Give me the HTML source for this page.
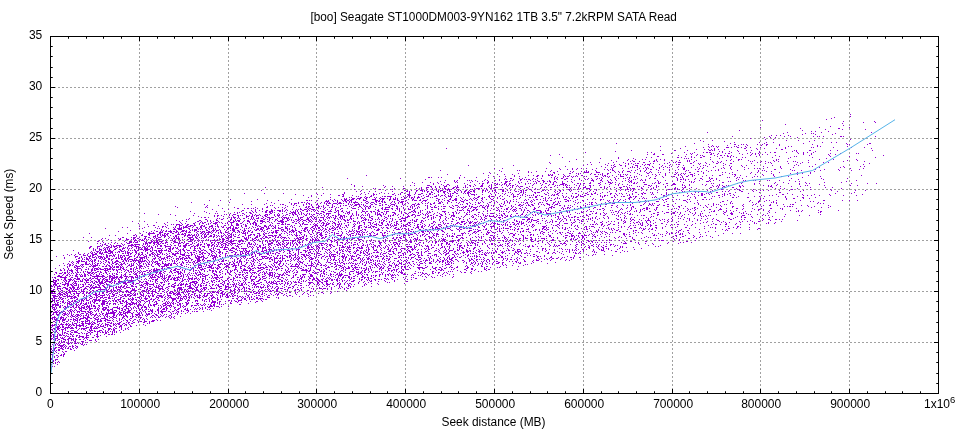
<!DOCTYPE html>
<html lang="en"><head><meta charset="utf-8"><title>Seek profile</title>
<style>
html,body{margin:0;padding:0;background:#fff}
body{width:960px;height:432px;overflow:hidden}
svg{display:block}
text{font-family:"Liberation Sans",sans-serif;font-size:12px;fill:#000}
</style></head><body>
<svg width="960" height="432" viewBox="0 0 960 432">
<rect width="960" height="432" fill="#fff"/>
<path d="M139.5 36.0V393.5M228.5 36.0V393.5M316.5 36.0V393.5M405.5 36.0V393.5M494.5 36.0V393.5M583.5 36.0V393.5M672.5 36.0V393.5M760.5 36.0V393.5M849.5 36.0V393.5M50.0 342.5H938.5M50.0 291.5H938.5M50.0 240.5H938.5M50.0 189.5H938.5M50.0 138.5H938.5M50.0 87.5H938.5" fill="none" stroke="#a0a0a0" stroke-width="1" stroke-dasharray="2 2" shape-rendering="crispEdges"/>
<path transform="translate(0,0.5)" d="M850 114h1M850 116h1M834 117h1M831 118h1M826 119h1M762 120h1M843 121h1m30 0h1M863 122h1m11 0h1M842 123h1M785 124h1M843 125h1M830 126h1M760 127h1m58 0h1m29 0h1M800 128h1m37 0h2M825 129h1m16 0h1m22 0h1M739 130h1m62 0h1M811 131h1m3 0h1m12 0h1M707 132h1m79 0h1m33 0h1m49 0h1M783 133h1m21 0h1m5 0h1m1 0h1m21 0h1M802 134h1m12 0h1m16 0h1M771 135h1m4 0h1m3 0h1m7 0h1M732 136h1m36 0h1m14 0h1m5 0h1m22 0h1m3 0h1m1 0h1m3 0h1m16 0h2m1 0h1m31 0h1M764 137h1m5 0h1m4 0h1m21 0h1M750 138h1M765 139h1m7 0h1m76 0h1M700 140h1m11 0h1m73 0h1m11 0h1m15 0h1M703 141h1m20 0h1m84 0h1M734 142h1m24 0h1m6 0h1m6 0h1m48 0h1m8 0h1m4 0h1M616 143h1m77 0h1m35 0h1m33 0h1m38 0h1m42 0h1m22 0h2M708 144h1m25 0h2m5 0h1m1 0h1m2 0h1m10 0h1m4 0h1m3 0h2m11 0h1m32 0h1m34 0h1m1 0h1m17 0h1M712 145h1m14 0h1m10 0h1m8 0h1m13 0h1m4 0h1m12 0h1m37 0h1M660 146h1m24 0h1m22 0h1m2 0h1m1 0h1m2 0h1m1 0h1m15 0h1m1 0h1m8 0h1m42 0h1m2 0h1m25 0h1m2 0h1m26 0h1M703 147h1m5 0h1m7 0h1m8 0h3m2 0h1m5 0h2m2 0h1m4 0h1m3 0h1m9 0h1m24 0h1m25 0h1m1 0h1m19 0h1m17 0h1m12 0h1M446 148h1m233 0h1m33 0h1m29 0h2m10 0h1m7 0h1m11 0h1m8 0h1m85 0h1M696 149h1m7 0h1m3 0h1m2 0h1m2 0h1m3 0h1m5 0h1m32 0h1m23 0h2M631 150h1m28 0h1m13 0h2m11 0h1m21 0h2m1 0h1m1 0h1m22 0h1m8 0h1m4 0h1m42 0h1m1 0h1m12 0h2m19 0h1m6 0h1m34 0h1M615 151h1m103 0h1m2 0h1m6 0h1m8 0h1m20 0h1m32 0h1m3 0h1m18 0h1M585 152h1m61 0h1m3 0h1m32 0h1m9 0h1m8 0h1m2 0h2m1 0h2m11 0h1m8 0h1m18 0h1m8 0h1m5 0h1m4 0h1m3 0h2m10 0h1m10 0h1m5 0h1m3 0h1m5 0h1M654 153h1m16 0h1m18 0h1m1 0h1m18 0h1m1 0h1m4 0h1m6 0h1m2 0h2m9 0h1m7 0h1m4 0h1m2 0h1m2 0h1m39 0h1m4 0h1m7 0h1m18 0h1m9 0h1m15 0h1m1 0h1M559 154h1m87 0h1m5 0h2m7 0h2m22 0h1m4 0h1m5 0h1m12 0h2m5 0h1m24 0h1m8 0h1m3 0h1m3 0h1m2 0h1m4 0h1m35 0h1m7 0h1m16 0h1m6 0h1M550 155h1m127 0h1m17 0h1m3 0h1m1 0h1m11 0h1m5 0h2m2 0h1m2 0h1m3 0h1m18 0h1m8 0h1m15 0h1m33 0h1m19 0h1m53 0h1M657 156h2m26 0h1m5 0h1m11 0h2m12 0h1m9 0h2m1 0h1m2 0h1m22 0h1m22 0h1m14 0h1m1 0h1m33 0h1m18 0h1M562 157h1m55 0h1m27 0h1m4 0h1m25 0h2m2 0h1m9 0h1m2 0h1m5 0h2m8 0h1m11 0h1m7 0h1m5 0h1m5 0h1m2 0h1m26 0h1m17 0h1m21 0h1m62 0h1M600 158h1m17 0h1m14 0h1m50 0h1m1 0h1m1 0h1m30 0h1m68 0h1m37 0h1M576 159h1m51 0h1m6 0h1m6 0h1m2 0h1m10 0h1m3 0h1m3 0h1m26 0h1m18 0h1m20 0h1m6 0h2m1 0h1m34 0h1m1 0h1m40 0h1m13 0h1m22 0h1M611 160h1m15 0h1m4 0h1m21 0h1m1 0h1m7 0h1m6 0h1m7 0h1m7 0h1m1 0h1m6 0h1m29 0h1m3 0h1m7 0h1m9 0h1m5 0h1m18 0h1m2 0h1m31 0h1m38 0h1m9 0h1M569 161h1m46 0h1m13 0h1m2 0h2m4 0h1m9 0h1m3 0h2m2 0h1m18 0h1m10 0h1m1 0h1m4 0h1m17 0h1m4 0h1m3 0h1m11 0h1m16 0h1m1 0h1m8 0h1m3 0h1m8 0h1m3 0h1m8 0h1m5 0h1m1 0h1m47 0h1m20 0h1M549 162h1m40 0h1m8 0h1m13 0h1m9 0h1m19 0h2m24 0h1m3 0h1m1 0h1m2 0h3m12 0h1m11 0h1m7 0h1m4 0h1m1 0h1m36 0h1m2 0h1m7 0h1m1 0h1m26 0h1m4 0h1m5 0h1m14 0h1m4 0h1M550 163h1m57 0h1m16 0h1m2 0h1m2 0h1m3 0h1m1 0h2m11 0h1m2 0h1m10 0h1m2 0h1m22 0h2m6 0h1m1 0h1m5 0h1m9 0h2m5 0h1m6 0h2m19 0h1m13 0h1m5 0h1m16 0h1m11 0h1m68 0h1M587 164h1m3 0h1m13 0h1m8 0h1m4 0h1m8 0h1m4 0h1m8 0h1m2 0h1m1 0h3m9 0h1m10 0h1m5 0h1m1 0h2m19 0h1m9 0h1m15 0h1m70 0h1m18 0h1m47 0h1M468 165h1m44 0h1m69 0h1m23 0h1m3 0h1m1 0h1m6 0h2m3 0h1m9 0h3m6 0h1m4 0h1m12 0h1m6 0h1m13 0h1m9 0h1m9 0h1m1 0h1m17 0h1m5 0h1m11 0h1m4 0h1m7 0h1m17 0h1m21 0h1m3 0h1M565 166h1m35 0h1m12 0h2m9 0h1m6 0h1m4 0h1m2 0h1m11 0h1m8 0h1m3 0h1m5 0h1m6 0h1m21 0h1m6 0h1m7 0h1m15 0h1m10 0h1m20 0h1m16 0h1m28 0h1m2 0h1m30 0h1m16 0h1m3 0h1M605 167h1m5 0h1m1 0h1m16 0h1m1 0h1m1 0h1m2 0h1m7 0h1m1 0h1m5 0h1m5 0h1m3 0h1m3 0h1m1 0h1m7 0h1m4 0h1m1 0h1m6 0h1m5 0h1m5 0h1m9 0h1m9 0h1m6 0h1m13 0h1m22 0h1m12 0h1m12 0h1m25 0h1m20 0h1m3 0h1M494 168h1m7 0h1m43 0h1m12 0h1m12 0h1m4 0h1m3 0h1m4 0h1m9 0h1m15 0h1m9 0h1m5 0h1m10 0h1m3 0h1m2 0h1m1 0h1m10 0h1m23 0h2m14 0h1m2 0h1m18 0h1m2 0h1m5 0h1m17 0h1m5 0h1m2 0h1m1 0h1m3 0h1m17 0h1m68 0h1m12 0h1M560 169h1m6 0h1m4 0h1m3 0h1m15 0h1m11 0h1m2 0h1m2 0h1m1 0h1m24 0h1m8 0h1m3 0h2m4 0h1m6 0h1m5 0h1m8 0h1m4 0h2m10 0h1m2 0h1m19 0h1m12 0h1m12 0h1m29 0h2m14 0h1m24 0h1m8 0h1m13 0h1m20 0h1M440 170h1m58 0h1m17 0h1m1 0h1m31 0h1m34 0h1m8 0h1m12 0h1m3 0h2m9 0h1m7 0h1m3 0h1m4 0h1m4 0h1m12 0h1m10 0h1m5 0h1m10 0h1m1 0h1m17 0h1m4 0h1m3 0h1m2 0h1m18 0h1m20 0h1m3 0h1m1 0h1m27 0h1m1 0h1m6 0h1m18 0h1m18 0h1m11 0h1M501 171h1m26 0h1m7 0h1m8 0h1m4 0h1m6 0h1m12 0h1m2 0h1m7 0h1m2 0h1m1 0h1m1 0h1m7 0h1m17 0h1m3 0h1m3 0h1m4 0h3m10 0h1m3 0h1m5 0h1m34 0h1m11 0h2m2 0h1m6 0h1m49 0h1m7 0h1m4 0h1m42 0h1M489 172h1m38 0h1m2 0h1m21 0h2m17 0h1m11 0h5m7 0h4m10 0h1m4 0h1m3 0h1m2 0h1m7 0h1m3 0h1m11 0h1m2 0h1m1 0h1m6 0h1m1 0h1m8 0h1m5 0h1m1 0h1m11 0h2m12 0h1m18 0h1m2 0h1m6 0h1m18 0h1m5 0h1m21 0h1m17 0h1m12 0h1M483 173h1m6 0h1m27 0h1m35 0h1m14 0h2m5 0h1m1 0h1m1 0h1m10 0h1m10 0h1m4 0h2m28 0h1m9 0h2m16 0h1m10 0h1m4 0h1m1 0h1m1 0h1m8 0h1m8 0h1m25 0h1m20 0h1m20 0h1m18 0h1m5 0h1m5 0h1m7 0h1M447 174h1m49 0h1m6 0h1m7 0h1m35 0h1m1 0h1m1 0h1m5 0h1m4 0h1m14 0h1m11 0h1m3 0h2m2 0h1m1 0h1m1 0h1m4 0h1m10 0h1m1 0h1m2 0h1m1 0h1m1 0h1m11 0h1m12 0h1m2 0h1m3 0h1m5 0h1m8 0h2m2 0h1m1 0h1m3 0h1m5 0h3m5 0h1m23 0h1m9 0h1m1 0h2m19 0h1m6 0h1m10 0h1m23 0h1M366 175h1m93 0h1m27 0h1m25 0h1m13 0h1m4 0h1m3 0h2m3 0h1m5 0h2m1 0h2m11 0h1m4 0h1m6 0h1m4 0h2m19 0h1m1 0h2m6 0h1m7 0h1m5 0h1m3 0h1m10 0h1m6 0h1m7 0h1m8 0h1m12 0h1m2 0h1m6 0h1m3 0h1m1 0h1m11 0h1m5 0h1m6 0h2m14 0h1m4 0h1m22 0h1m9 0h1m34 0h1m52 0h1M493 176h1m5 0h1m5 0h1m8 0h1m4 0h1m16 0h2m4 0h1m12 0h1m7 0h1m1 0h1m1 0h2m2 0h1m1 0h1m1 0h1m1 0h1m6 0h1m1 0h1m8 0h3m5 0h1m1 0h1m1 0h1m1 0h1m6 0h1m3 0h4m10 0h1m1 0h1m9 0h1m8 0h1m6 0h1m8 0h1m1 0h2m7 0h1m3 0h2m4 0h1m9 0h1m31 0h1m11 0h1m7 0h1m2 0h1m16 0h1m6 0h1m6 0h1m31 0h1M428 177h2m1 0h1m6 0h1m2 0h1m17 0h1m4 0h1m11 0h1m11 0h1m36 0h1m25 0h1m2 0h1m2 0h1m5 0h1m8 0h1m28 0h1m6 0h1m5 0h1m12 0h1m1 0h1m1 0h1m2 0h1m15 0h1m12 0h1m12 0h1m3 0h1m1 0h1m26 0h1m17 0h1m1 0h1m7 0h1m1 0h1m12 0h1m49 0h1M347 178h1m52 0h1m58 0h1m34 0h1m10 0h1m4 0h2m7 0h1m2 0h1m10 0h1m3 0h1m3 0h1m12 0h1m1 0h1m4 0h2m3 0h2m11 0h1m4 0h1m3 0h1m2 0h1m5 0h1m1 0h1m2 0h1m12 0h1m2 0h1m4 0h1m1 0h1m3 0h1m7 0h1m11 0h1m4 0h2m21 0h1m5 0h1m11 0h1m4 0h2m7 0h1m1 0h2m3 0h1m19 0h1m5 0h1m48 0h1m29 0h1m25 0h1M425 179h1m59 0h1m13 0h1m4 0h1m1 0h1m6 0h1m6 0h2m2 0h1m1 0h1m1 0h2m2 0h1m2 0h1m18 0h1m2 0h1m6 0h2m5 0h1m7 0h1m5 0h1m1 0h1m4 0h1m3 0h1m4 0h1m8 0h1m4 0h1m12 0h1m4 0h1m1 0h1m5 0h1m3 0h1m31 0h1m2 0h2m1 0h1m1 0h1m2 0h1m5 0h1m7 0h1m7 0h1m5 0h1m21 0h1m59 0h1m24 0h1M445 180h1m8 0h1m2 0h1m9 0h1m1 0h1m1 0h1m3 0h1m8 0h1m2 0h1m7 0h1m3 0h1m10 0h1m1 0h1m7 0h1m9 0h1m6 0h1m4 0h2m5 0h1m24 0h1m6 0h1m9 0h3m6 0h2m5 0h1m3 0h1m4 0h1m8 0h1m3 0h1m1 0h1m8 0h1m1 0h1m2 0h1m11 0h1m7 0h1m11 0h1m7 0h1m13 0h1m9 0h1m3 0h1m5 0h1m16 0h1m6 0h1m1 0h1m7 0h1m1 0h1m11 0h1m1 0h1m9 0h1m9 0h1m66 0h1M440 181h1m13 0h1m1 0h1m15 0h1m4 0h1m4 0h1m5 0h1m16 0h3m1 0h1m8 0h1m8 0h1m5 0h1m1 0h1m2 0h2m3 0h2m2 0h1m1 0h2m3 0h2m6 0h1m4 0h1m3 0h1m21 0h1m8 0h1m5 0h1m13 0h1m5 0h1m1 0h2m26 0h1m13 0h1m7 0h1m8 0h1m1 0h1m2 0h1m11 0h3m1 0h1m17 0h1m1 0h1m28 0h1m35 0h1m3 0h1m46 0h1M412 182h1m9 0h1m7 0h1m6 0h1m6 0h1m10 0h1m1 0h1m12 0h1m16 0h2m3 0h1m8 0h1m3 0h2m11 0h1m2 0h1m14 0h1m6 0h1m6 0h1m2 0h1m2 0h1m5 0h1m9 0h1m17 0h1m9 0h1m7 0h3m1 0h1m2 0h1m13 0h1m1 0h1m2 0h1m2 0h1m5 0h2m10 0h1m2 0h1m1 0h1m22 0h1m7 0h1m1 0h1m28 0h2m18 0h1m32 0h1m7 0h1m21 0h1m18 0h1m16 0h1M414 183h1m18 0h1m4 0h1m25 0h1m14 0h1m2 0h2m3 0h1m6 0h2m1 0h1m6 0h2m3 0h2m8 0h1m5 0h1m2 0h1m1 0h1m3 0h1m1 0h1m3 0h1m4 0h2m6 0h1m8 0h3m12 0h2m1 0h1m2 0h2m4 0h2m7 0h2m5 0h1m4 0h2m7 0h1m13 0h2m1 0h1m15 0h1m1 0h1m3 0h2m6 0h2m5 0h2m36 0h1m1 0h1m23 0h1m3 0h1m12 0h1m4 0h1m14 0h1m13 0h1m10 0h1m6 0h1m2 0h1m41 0h1m15 0h1m8 0h1M351 184h1m81 0h1m7 0h1m5 0h2m18 0h1m6 0h1m7 0h1m8 0h1m4 0h2m1 0h1m2 0h1m1 0h1m1 0h1m2 0h1m5 0h1m9 0h1m7 0h1m8 0h1m6 0h1m2 0h2m6 0h4m1 0h2m7 0h1m5 0h1m19 0h1m8 0h1m5 0h1m2 0h1m3 0h1m4 0h1m16 0h3m16 0h1m8 0h4m6 0h1m6 0h1m12 0h1m3 0h1m12 0h1m34 0h1m22 0h1m21 0h1m19 0h1M354 185h1m28 0h1m26 0h1m3 0h1m12 0h3m13 0h1m2 0h1m2 0h1m7 0h1m7 0h1m3 0h2m4 0h1m5 0h2m6 0h1m1 0h1m3 0h1m5 0h1m4 0h1m1 0h1m1 0h1m1 0h2m3 0h1m14 0h1m8 0h1m6 0h1m6 0h1m1 0h1m1 0h1m3 0h1m1 0h1m1 0h1m1 0h1m6 0h1m2 0h1m3 0h1m5 0h2m2 0h1m5 0h1m18 0h1m10 0h1m1 0h1m16 0h2m1 0h1m4 0h1m10 0h1m3 0h1m10 0h1m1 0h1m4 0h1m15 0h1m6 0h1m4 0h1m1 0h1m2 0h1m3 0h1m1 0h1m10 0h1m2 0h1m20 0h1m4 0h1m2 0h1m4 0h1m28 0h1m1 0h1m16 0h1m25 0h1m6 0h1M354 186h1m7 0h1m22 0h1m6 0h1m10 0h1m26 0h2m3 0h1m3 0h1m4 0h3m8 0h1m1 0h1m7 0h1m4 0h1m2 0h1m6 0h3m5 0h1m2 0h1m15 0h1m4 0h1m3 0h1m1 0h1m1 0h3m6 0h1m15 0h1m8 0h1m11 0h1m12 0h1m5 0h1m4 0h1m13 0h1m4 0h1m13 0h2m1 0h1m10 0h1m1 0h1m3 0h1m6 0h1m5 0h1m1 0h1m6 0h1m19 0h1m27 0h1m2 0h1m1 0h1m4 0h2m14 0h2m2 0h1m24 0h1m1 0h2m8 0h1m10 0h1m8 0h1M265 187h1m56 0h1m61 0h1m36 0h1m4 0h3m2 0h1m3 0h1m3 0h1m4 0h1m8 0h2m1 0h3m4 0h1m1 0h1m1 0h1m21 0h1m1 0h1m2 0h4m4 0h1m7 0h1m1 0h1m6 0h1m6 0h2m4 0h1m8 0h1m2 0h1m1 0h1m3 0h2m5 0h1m5 0h1m2 0h2m1 0h1m1 0h1m2 0h1m3 0h1m4 0h3m4 0h1m9 0h2m2 0h1m2 0h1m6 0h1m4 0h3m5 0h1m1 0h1m11 0h1m6 0h1m4 0h1m2 0h1m8 0h1m9 0h1m6 0h1m1 0h2m5 0h1m18 0h2m6 0h1m3 0h1m1 0h2m6 0h2m6 0h1m31 0h1m37 0h1m14 0h1m6 0h1M373 188h1m1 0h1m18 0h1m8 0h2m11 0h1m2 0h1m1 0h1m4 0h1m5 0h1m3 0h1m3 0h1m1 0h1m1 0h2m2 0h1m3 0h2m2 0h1m17 0h1m1 0h4m1 0h1m2 0h1m1 0h1m3 0h2m1 0h1m11 0h1m3 0h1m5 0h1m4 0h1m3 0h1m3 0h1m6 0h1m4 0h1m29 0h1m7 0h1m1 0h1m2 0h1m2 0h4m14 0h1m1 0h1m3 0h1m5 0h1m3 0h1m6 0h1m2 0h1m1 0h3m6 0h2m8 0h1m1 0h1m20 0h2m1 0h1m5 0h1m5 0h1m6 0h1m12 0h1m7 0h1m18 0h1m38 0h1m4 0h1m3 0h1m12 0h1m43 0h1M354 189h1m24 0h2m9 0h1m1 0h1m28 0h1m5 0h1m4 0h1m3 0h1m8 0h1m1 0h3m1 0h1m5 0h2m11 0h1m1 0h1m5 0h1m7 0h1m8 0h1m4 0h2m1 0h1m25 0h2m3 0h1m2 0h1m6 0h1m5 0h1m17 0h2m3 0h1m3 0h1m11 0h1m4 0h1m1 0h1m24 0h1m3 0h1m1 0h2m4 0h1m4 0h1m11 0h1m4 0h1m12 0h2m1 0h1m2 0h1m2 0h1m1 0h1m2 0h1m38 0h2m11 0h1m2 0h1m1 0h1m13 0h1m37 0h2m17 0h1m19 0h1M261 190h1m99 0h1m23 0h1m18 0h2m1 0h1m3 0h1m4 0h2m2 0h3m1 0h1m1 0h1m6 0h1m2 0h1m1 0h1m1 0h3m4 0h1m1 0h1m6 0h1m1 0h1m1 0h1m4 0h2m2 0h1m3 0h2m7 0h2m1 0h1m1 0h1m4 0h1m1 0h2m6 0h2m3 0h1m2 0h1m3 0h1m5 0h2m1 0h1m1 0h2m4 0h1m10 0h2m1 0h1m2 0h1m6 0h1m3 0h2m2 0h1m5 0h1m1 0h1m18 0h1m5 0h1m19 0h1m3 0h1m4 0h1m4 0h1m2 0h1m7 0h1m4 0h1m10 0h1m8 0h1m14 0h1m7 0h1m17 0h1m4 0h1m16 0h1m9 0h2m11 0h1m3 0h1m3 0h1m2 0h1m4 0h1m10 0h1m9 0h1m13 0h1m27 0h1m23 0h1m9 0h1M356 191h1m3 0h1m8 0h1m5 0h1m16 0h1m13 0h2m1 0h1m6 0h1m5 0h1m1 0h1m2 0h2m2 0h1m5 0h2m1 0h1m2 0h3m3 0h2m3 0h1m2 0h1m3 0h1m2 0h2m2 0h1m1 0h2m1 0h2m7 0h1m2 0h1m3 0h1m2 0h1m2 0h1m6 0h2m1 0h1m9 0h2m1 0h1m2 0h1m1 0h1m8 0h1m8 0h1m12 0h1m2 0h1m2 0h1m9 0h1m7 0h1m2 0h1m7 0h1m3 0h1m15 0h1m6 0h1m11 0h1m3 0h1m43 0h1m5 0h1m1 0h1m5 0h1m3 0h2m3 0h1m10 0h1m11 0h1m2 0h1m2 0h1m12 0h2m10 0h1m46 0h1m36 0h1M344 192h1m19 0h1m16 0h1m19 0h2m6 0h1m5 0h1m11 0h1m3 0h2m5 0h1m4 0h2m2 0h1m6 0h2m5 0h1m2 0h1m2 0h3m4 0h1m7 0h1m5 0h1m5 0h1m1 0h1m11 0h1m1 0h1m9 0h2m1 0h1m1 0h1m8 0h2m1 0h3m7 0h1m7 0h1m3 0h1m27 0h1m7 0h1m6 0h1m4 0h1m27 0h2m6 0h1m6 0h1m1 0h1m4 0h1m8 0h1m12 0h1m15 0h1m2 0h1m11 0h1m5 0h2m17 0h1m23 0h1m19 0h2m73 0h1M244 193h1m19 0h1m18 0h1m32 0h1m6 0h1m20 0h1m16 0h1m6 0h1m4 0h1m5 0h1m4 0h1m3 0h1m5 0h1m5 0h1m3 0h1m4 0h1m5 0h1m5 0h2m6 0h2m3 0h1m9 0h1m3 0h1m1 0h1m1 0h2m2 0h2m5 0h1m1 0h1m1 0h2m1 0h1m19 0h1m7 0h1m3 0h1m2 0h1m6 0h1m6 0h1m3 0h1m11 0h1m8 0h1m3 0h1m8 0h2m3 0h1m3 0h1m5 0h1m2 0h2m8 0h2m4 0h1m2 0h2m4 0h1m9 0h2m3 0h1m3 0h1m1 0h1m4 0h1m5 0h1m8 0h2m1 0h2m6 0h1m13 0h1m8 0h1m11 0h1m3 0h1m9 0h2m3 0h1m1 0h1m2 0h1m12 0h1m4 0h2m17 0h1m38 0h1m47 0h1m15 0h1M295 194h1m21 0h1m12 0h1m11 0h2m16 0h1m4 0h1m7 0h2m1 0h1m15 0h2m4 0h1m1 0h1m6 0h3m4 0h1m3 0h3m5 0h1m2 0h2m1 0h1m5 0h1m6 0h1m4 0h1m17 0h1m2 0h4m1 0h1m5 0h1m8 0h1m3 0h1m8 0h1m6 0h1m1 0h1m3 0h2m3 0h1m2 0h1m7 0h1m11 0h2m5 0h1m1 0h1m1 0h2m20 0h1m3 0h1m4 0h2m2 0h2m4 0h1m12 0h1m5 0h1m5 0h1m6 0h1m2 0h1m5 0h1m3 0h1m8 0h1m1 0h1m7 0h1m4 0h1m1 0h1m2 0h1m20 0h1m1 0h1m6 0h2m1 0h1m4 0h1m12 0h1m1 0h1m2 0h1m5 0h1m42 0h1m5 0h2m8 0h1m9 0h1m11 0h1m14 0h1m32 0h1M303 195h1m7 0h1m9 0h1m16 0h2m3 0h1m8 0h1m18 0h1m1 0h1m21 0h1m9 0h1m2 0h3m12 0h1m4 0h1m7 0h1m1 0h1m2 0h2m1 0h1m3 0h1m1 0h1m1 0h1m5 0h1m9 0h1m5 0h1m14 0h1m5 0h1m4 0h1m6 0h1m5 0h1m6 0h1m1 0h1m4 0h1m1 0h1m1 0h1m1 0h1m3 0h1m1 0h1m8 0h1m2 0h1m1 0h2m3 0h1m3 0h1m8 0h1m6 0h1m1 0h1m3 0h2m14 0h1m3 0h2m1 0h1m6 0h1m2 0h1m9 0h1m1 0h1m33 0h2m7 0h1m4 0h1m5 0h1m4 0h1m9 0h1m2 0h2m15 0h2m4 0h1m5 0h1m3 0h1m26 0h1m7 0h1m2 0h1m30 0h1m3 0h1m3 0h1m7 0h1m10 0h1m12 0h1m12 0h1M311 196h1m30 0h2m12 0h1m1 0h1m6 0h1m4 0h2m10 0h1m1 0h2m1 0h5m11 0h1m3 0h1m1 0h1m4 0h1m3 0h1m2 0h1m4 0h3m5 0h3m3 0h1m4 0h1m2 0h4m4 0h1m12 0h1m8 0h2m8 0h2m1 0h3m5 0h1m2 0h1m6 0h1m3 0h3m1 0h1m7 0h1m9 0h2m4 0h2m20 0h1m2 0h1m4 0h1m1 0h1m2 0h2m2 0h4m6 0h1m9 0h1m1 0h1m1 0h1m9 0h1m6 0h1m1 0h2m5 0h1m2 0h1m1 0h2m4 0h1m13 0h1m7 0h1m2 0h1m20 0h1m6 0h1m17 0h1m1 0h1m7 0h1m15 0h1m15 0h1m4 0h1m4 0h1m13 0h1m6 0h1m11 0h1M308 197h1m21 0h1m18 0h1m1 0h1m8 0h2m2 0h1m1 0h2m1 0h1m4 0h1m1 0h1m3 0h1m9 0h1m4 0h1m5 0h1m2 0h1m1 0h1m2 0h1m1 0h2m1 0h1m2 0h3m4 0h1m5 0h1m1 0h1m13 0h1m4 0h1m8 0h1m2 0h1m10 0h1m2 0h2m3 0h1m1 0h1m4 0h1m7 0h1m15 0h1m6 0h1m8 0h2m1 0h1m2 0h2m8 0h1m3 0h1m7 0h1m5 0h1m1 0h1m2 0h1m4 0h1m1 0h2m25 0h1m8 0h2m2 0h1m13 0h3m3 0h1m7 0h1m8 0h1m1 0h1m1 0h1m16 0h1m16 0h1m4 0h1m8 0h2m13 0h1m12 0h2m2 0h1m10 0h2m36 0h1m16 0h2m11 0h1M318 198h1m25 0h1m1 0h1m5 0h3m2 0h4m4 0h2m8 0h1m3 0h1m1 0h4m2 0h1m2 0h1m2 0h1m1 0h1m1 0h1m6 0h2m5 0h1m1 0h1m3 0h1m4 0h2m12 0h2m6 0h1m5 0h1m4 0h2m4 0h1m8 0h1m2 0h1m1 0h2m4 0h2m7 0h1m2 0h1m3 0h1m2 0h1m3 0h1m14 0h1m23 0h1m1 0h1m2 0h1m2 0h1m3 0h1m1 0h1m1 0h1m9 0h1m2 0h1m20 0h1m34 0h2m4 0h1m4 0h1m2 0h1m1 0h1m1 0h1m20 0h2m26 0h1m15 0h1m48 0h1m2 0h1m22 0h1m6 0h2m8 0h1m5 0h1M230 199h1m26 0h1m33 0h1m38 0h1m3 0h1m6 0h1m2 0h3m2 0h1m1 0h3m2 0h1m2 0h1m3 0h1m2 0h1m5 0h4m4 0h1m1 0h2m5 0h2m2 0h3m1 0h1m3 0h3m4 0h1m3 0h2m6 0h1m6 0h1m10 0h2m2 0h1m6 0h2m3 0h3m5 0h1m2 0h1m3 0h1m1 0h1m2 0h1m2 0h1m4 0h1m3 0h1m4 0h2m9 0h2m9 0h1m2 0h1m8 0h1m2 0h1m4 0h1m2 0h2m2 0h1m4 0h1m8 0h1m9 0h3m10 0h1m9 0h1m4 0h1m2 0h1m4 0h2m1 0h1m10 0h1m2 0h1m2 0h1m4 0h1m3 0h1m3 0h1m25 0h1m2 0h1m2 0h2m5 0h1m3 0h1m2 0h1m7 0h1m1 0h1m12 0h2m2 0h1m2 0h1m50 0h1m25 0h1M209 200h1m10 0h1m46 0h1m10 0h1m27 0h2m1 0h1m1 0h1m5 0h1m8 0h1m1 0h1m3 0h1m2 0h1m1 0h1m4 0h1m1 0h2m1 0h2m1 0h2m11 0h3m9 0h3m1 0h1m2 0h1m6 0h1m7 0h2m7 0h1m5 0h1m1 0h3m2 0h2m2 0h4m9 0h1m1 0h1m5 0h1m2 0h2m3 0h2m1 0h2m3 0h1m3 0h1m1 0h2m4 0h1m3 0h1m4 0h1m11 0h1m12 0h1m3 0h1m13 0h1m1 0h1m4 0h1m2 0h1m8 0h1m1 0h1m1 0h1m2 0h2m15 0h2m1 0h1m4 0h1m6 0h2m16 0h1m6 0h1m1 0h1m3 0h1m5 0h1m3 0h1m14 0h1m6 0h1m17 0h1m19 0h3m11 0h1m29 0h1m22 0h1m8 0h1m6 0h1m2 0h1m6 0h1m23 0h1m22 0h2m17 0h1m6 0h1m7 0h1M251 201h1m73 0h4m4 0h1m3 0h1m5 0h1m1 0h2m2 0h1m1 0h1m3 0h1m10 0h2m7 0h2m1 0h2m1 0h2m1 0h1m7 0h1m1 0h1m4 0h1m1 0h3m1 0h1m16 0h1m2 0h1m12 0h1m2 0h1m6 0h2m11 0h3m18 0h1m8 0h1m4 0h1m7 0h1m2 0h1m2 0h1m2 0h1m2 0h1m13 0h1m1 0h1m13 0h1m8 0h1m2 0h1m1 0h1m4 0h2m1 0h1m4 0h1m9 0h1m24 0h1m4 0h1m4 0h1m6 0h1m4 0h1m9 0h1m3 0h1m1 0h1m1 0h1m7 0h3m7 0h1m6 0h1m12 0h1m3 0h1m31 0h2m7 0h1m17 0h1m8 0h2m4 0h1m8 0h1m36 0h1m2 0h1M191 202h1m37 0h1m41 0h1m17 0h1m8 0h1m2 0h2m1 0h1m2 0h1m7 0h1m5 0h1m2 0h1m2 0h1m1 0h1m7 0h1m1 0h2m5 0h1m2 0h1m1 0h1m1 0h5m3 0h1m3 0h1m2 0h1m2 0h3m2 0h1m5 0h1m1 0h2m5 0h1m2 0h1m3 0h1m1 0h3m4 0h1m13 0h1m6 0h1m5 0h1m4 0h2m1 0h1m4 0h1m3 0h1m4 0h1m2 0h1m3 0h1m5 0h1m5 0h1m2 0h1m1 0h1m2 0h1m5 0h2m3 0h1m2 0h1m6 0h1m2 0h1m1 0h1m8 0h1m2 0h1m1 0h1m2 0h2m3 0h1m7 0h2m1 0h1m10 0h2m3 0h1m16 0h1m2 0h1m1 0h1m8 0h1m1 0h2m2 0h1m9 0h1m3 0h2m3 0h1m24 0h1m5 0h1m18 0h1m22 0h1m9 0h1m22 0h1m9 0h1m21 0h1m5 0h1m12 0h1m1 0h1m2 0h1m18 0h1m22 0h1M266 203h1m7 0h1m16 0h1m2 0h3m1 0h1m7 0h1m1 0h2m7 0h1m2 0h1m3 0h1m1 0h1m1 0h3m2 0h4m1 0h4m1 0h1m4 0h1m5 0h1m3 0h1m7 0h2m2 0h1m3 0h1m4 0h2m9 0h1m4 0h1m2 0h1m3 0h1m2 0h1m2 0h1m6 0h1m2 0h1m3 0h1m2 0h1m1 0h1m2 0h1m2 0h2m3 0h3m6 0h1m10 0h1m7 0h2m2 0h1m7 0h2m7 0h1m6 0h1m6 0h1m2 0h1m4 0h1m15 0h1m1 0h1m6 0h1m3 0h1m7 0h2m5 0h1m3 0h1m1 0h1m17 0h1m7 0h1m5 0h1m4 0h1m4 0h1m5 0h2m3 0h3m17 0h1m11 0h1m4 0h1m2 0h1m1 0h1m20 0h1m18 0h1m3 0h1m14 0h1m16 0h1m1 0h1m23 0h1m19 0h1m40 0h1m2 0h1m2 0h1M204 204h1m37 0h1m8 0h1m12 0h1m15 0h1m1 0h2m7 0h1m2 0h1m8 0h1m2 0h1m2 0h1m1 0h1m4 0h2m8 0h1m5 0h1m4 0h1m10 0h1m1 0h1m1 0h1m2 0h5m1 0h1m1 0h1m7 0h2m2 0h2m5 0h1m2 0h2m4 0h4m7 0h1m1 0h1m7 0h3m2 0h3m10 0h2m11 0h1m16 0h1m1 0h1m4 0h1m4 0h1m2 0h1m12 0h1m10 0h1m3 0h1m11 0h1m3 0h2m2 0h1m4 0h1m2 0h2m5 0h1m2 0h1m1 0h1m3 0h3m2 0h1m2 0h3m16 0h1m12 0h1m1 0h1m1 0h2m12 0h2m15 0h1m7 0h1m12 0h1m5 0h2m1 0h1m6 0h1m7 0h2m29 0h1m9 0h1m4 0h1m2 0h1m1 0h1m5 0h1m1 0h1m16 0h1m9 0h1m1 0h1m4 0h1m9 0h1m12 0h1m6 0h1m1 0h2M207 205h1m10 0h1m51 0h1m1 0h1m12 0h1m7 0h1m2 0h1m6 0h1m7 0h1m6 0h1m4 0h1m3 0h2m3 0h1m7 0h1m2 0h1m1 0h2m4 0h1m2 0h3m2 0h1m3 0h1m1 0h1m4 0h1m8 0h2m1 0h1m5 0h1m1 0h1m3 0h1m1 0h1m6 0h1m7 0h1m2 0h1m1 0h1m8 0h1m1 0h1m7 0h1m16 0h1m2 0h3m11 0h1m10 0h2m1 0h1m2 0h1m1 0h1m2 0h1m1 0h1m6 0h1m4 0h1m5 0h1m6 0h2m1 0h2m3 0h1m1 0h2m2 0h2m10 0h1m4 0h1m4 0h1m4 0h2m3 0h1m3 0h1m1 0h1m12 0h1m1 0h1m11 0h1m2 0h1m10 0h2m4 0h1m5 0h1m3 0h1m2 0h1m9 0h2m6 0h1m2 0h1m1 0h1m3 0h2m4 0h2m7 0h1m8 0h1m18 0h1m4 0h1m7 0h1m6 0h1m21 0h1m9 0h1m10 0h1m5 0h2m6 0h1m23 0h1m5 0h1m20 0h1M175 206h1m30 0h1m60 0h1m19 0h1m11 0h1m6 0h1m1 0h2m2 0h1m5 0h2m1 0h1m1 0h1m8 0h1m1 0h1m5 0h1m8 0h1m3 0h1m5 0h2m3 0h1m1 0h2m1 0h2m2 0h1m15 0h1m2 0h1m3 0h2m3 0h1m5 0h1m2 0h1m1 0h1m1 0h1m3 0h1m8 0h1m2 0h1m3 0h1m3 0h1m2 0h1m1 0h3m3 0h1m3 0h1m4 0h1m4 0h1m1 0h2m2 0h1m1 0h2m4 0h1m1 0h1m2 0h1m2 0h1m1 0h2m4 0h1m6 0h3m8 0h1m1 0h1m6 0h1m9 0h1m8 0h1m11 0h2m11 0h1m7 0h1m4 0h1m2 0h1m4 0h1m4 0h1m9 0h1m4 0h1m10 0h1m15 0h2m33 0h2m4 0h1m4 0h2m5 0h1m20 0h1m4 0h1m9 0h1m10 0h2m9 0h1m13 0h1m3 0h1m22 0h1m2 0h1m1 0h2m1 0h1m15 0h1m5 0h1m15 0h1M177 207h1m27 0h1m1 0h1m26 0h1m20 0h1m10 0h2m6 0h1m3 0h1m3 0h1m2 0h1m7 0h1m11 0h2m1 0h1m3 0h2m2 0h3m4 0h1m1 0h1m3 0h1m1 0h2m3 0h1m1 0h1m12 0h1m6 0h1m2 0h1m3 0h1m2 0h1m1 0h1m4 0h1m6 0h1m2 0h5m7 0h1m5 0h1m6 0h1m1 0h1m4 0h1m1 0h1m7 0h1m3 0h2m1 0h3m13 0h2m5 0h1m1 0h1m1 0h2m1 0h2m5 0h1m1 0h4m5 0h3m2 0h1m8 0h1m1 0h1m9 0h1m3 0h1m2 0h1m6 0h1m2 0h1m8 0h1m3 0h1m10 0h3m1 0h2m7 0h1m4 0h2m1 0h1m9 0h2m6 0h2m4 0h2m15 0h1m5 0h1m9 0h1m3 0h1m1 0h1m12 0h2m8 0h2m21 0h1m14 0h2m7 0h1m3 0h1m8 0h1m15 0h1m78 0h1m9 0h1m6 0h1M222 208h1m14 0h2m5 0h1m2 0h2m2 0h1m1 0h1m3 0h1m4 0h1m12 0h1m8 0h1m15 0h1m6 0h1m1 0h2m7 0h1m1 0h1m3 0h1m10 0h1m5 0h2m4 0h1m4 0h4m6 0h1m2 0h1m2 0h2m11 0h2m2 0h1m5 0h2m3 0h2m1 0h1m3 0h1m4 0h1m3 0h1m2 0h1m1 0h1m9 0h1m10 0h1m4 0h2m7 0h2m9 0h1m4 0h1m1 0h1m4 0h1m8 0h1m2 0h1m3 0h1m5 0h1m3 0h1m4 0h2m3 0h1m4 0h1m2 0h2m5 0h1m7 0h2m10 0h1m1 0h1m2 0h1m9 0h1m1 0h1m1 0h1m1 0h1m1 0h1m4 0h1m3 0h1m14 0h1m8 0h2m17 0h1m4 0h1m4 0h1m3 0h1m7 0h2m1 0h2m1 0h1m6 0h1m17 0h1m1 0h1m6 0h1m3 0h1m4 0h1m1 0h1m2 0h1m22 0h1m5 0h1m9 0h2m5 0h1m8 0h1m8 0h1m8 0h2m8 0h1m1 0h1m13 0h1M212 209h1m15 0h1m26 0h1m6 0h1m8 0h1m10 0h1m3 0h1m5 0h1m3 0h1m1 0h1m1 0h2m2 0h3m1 0h1m2 0h4m8 0h1m3 0h1m3 0h1m3 0h1m4 0h1m17 0h1m4 0h1m1 0h1m9 0h1m2 0h1m3 0h1m1 0h5m3 0h1m4 0h1m1 0h1m4 0h1m3 0h3m3 0h1m10 0h1m5 0h2m5 0h1m2 0h1m15 0h1m4 0h1m4 0h1m5 0h2m1 0h2m7 0h1m7 0h1m4 0h1m5 0h1m1 0h2m2 0h1m2 0h3m5 0h1m2 0h1m8 0h2m13 0h1m14 0h1m13 0h1m5 0h1m5 0h1m7 0h1m1 0h2m3 0h1m15 0h1m1 0h1m8 0h1m8 0h1m1 0h1m3 0h2m6 0h1m1 0h1m11 0h1m2 0h1m6 0h1m9 0h1m1 0h1m4 0h1m13 0h2m8 0h3m20 0h1m11 0h1m3 0h2m3 0h1m18 0h1M242 210h2m7 0h1m3 0h1m3 0h1m6 0h2m3 0h2m1 0h1m2 0h4m1 0h1m2 0h1m1 0h1m7 0h1m1 0h1m4 0h2m3 0h1m1 0h1m3 0h1m1 0h1m1 0h1m7 0h1m4 0h1m4 0h1m1 0h2m3 0h1m8 0h1m10 0h1m14 0h2m16 0h1m3 0h1m4 0h1m8 0h2m5 0h1m1 0h1m34 0h1m1 0h3m1 0h1m3 0h3m2 0h2m2 0h1m10 0h1m2 0h1m5 0h2m1 0h1m12 0h1m1 0h1m1 0h1m4 0h1m2 0h1m2 0h2m7 0h5m4 0h1m1 0h2m10 0h2m5 0h1m5 0h1m14 0h1m15 0h1m6 0h1m1 0h1m6 0h1m10 0h1m5 0h1m3 0h1m3 0h1m10 0h1m31 0h1m6 0h1m9 0h1m9 0h1m3 0h1m7 0h1m3 0h1m5 0h1m21 0h1m4 0h1m5 0h1m20 0h1m7 0h1m3 0h1m15 0h1m19 0h1M190 211h1m13 0h1m11 0h1m7 0h1m16 0h1m10 0h1m2 0h1m6 0h1m2 0h2m2 0h4m6 0h2m1 0h1m1 0h1m5 0h1m2 0h1m1 0h1m1 0h1m2 0h1m5 0h2m3 0h1m2 0h1m3 0h1m2 0h3m4 0h4m4 0h1m1 0h1m2 0h2m3 0h1m2 0h1m6 0h1m5 0h3m1 0h2m2 0h2m1 0h2m3 0h2m4 0h1m1 0h3m10 0h1m1 0h1m9 0h2m1 0h2m4 0h1m6 0h1m1 0h1m2 0h1m9 0h4m9 0h1m13 0h1m1 0h1m11 0h1m3 0h1m11 0h1m1 0h1m1 0h1m2 0h1m2 0h1m3 0h1m1 0h1m7 0h1m5 0h1m3 0h2m5 0h2m3 0h1m4 0h1m4 0h1m10 0h2m1 0h1m11 0h1m1 0h1m2 0h1m3 0h2m1 0h1m21 0h2m1 0h1m8 0h1m1 0h1m4 0h1m1 0h1m3 0h1m8 0h2m11 0h1m8 0h1m3 0h1m9 0h1m3 0h1m11 0h1m9 0h1m1 0h2m8 0h1m2 0h1m6 0h1m11 0h1m5 0h1m16 0h1m27 0h1m1 0h1m2 0h1m18 0h2M206 212h1m27 0h1m2 0h1m1 0h1m6 0h1m2 0h2m2 0h1m2 0h1m8 0h2m2 0h2m1 0h1m1 0h1m11 0h1m4 0h5m2 0h1m2 0h1m14 0h1m6 0h2m9 0h2m2 0h1m4 0h1m3 0h3m6 0h1m4 0h1m3 0h1m5 0h1m3 0h1m1 0h1m3 0h2m3 0h1m5 0h3m6 0h1m2 0h1m4 0h2m2 0h1m1 0h1m2 0h1m1 0h1m6 0h1m1 0h2m6 0h1m6 0h1m3 0h1m3 0h2m2 0h1m2 0h1m4 0h1m2 0h1m1 0h1m8 0h2m28 0h1m14 0h1m3 0h1m2 0h1m1 0h1m1 0h1m5 0h2m1 0h1m2 0h1m10 0h1m2 0h2m5 0h1m1 0h1m5 0h1m5 0h2m13 0h1m6 0h1m7 0h1m1 0h1m4 0h1m2 0h1m3 0h1m13 0h1m17 0h2m7 0h3m4 0h2m2 0h1m2 0h1m9 0h1m4 0h1m13 0h1m14 0h2m5 0h1m7 0h1m3 0h1m25 0h1m5 0h1m42 0h1m1 0h1M144 213h1m49 0h1m14 0h1m5 0h1m1 0h1m12 0h1m6 0h1m4 0h2m6 0h2m18 0h2m6 0h1m3 0h1m6 0h2m1 0h1m1 0h2m2 0h1m2 0h1m1 0h1m3 0h1m1 0h1m6 0h3m1 0h2m4 0h5m7 0h1m6 0h1m1 0h1m1 0h1m2 0h1m3 0h1m8 0h1m2 0h1m6 0h1m1 0h1m1 0h1m3 0h1m2 0h1m7 0h2m5 0h1m3 0h2m1 0h1m9 0h1m3 0h1m3 0h1m1 0h1m5 0h1m4 0h1m5 0h1m7 0h1m2 0h1m1 0h1m7 0h1m15 0h1m4 0h1m2 0h4m5 0h1m3 0h2m11 0h2m4 0h1m14 0h1m1 0h1m6 0h5m2 0h1m5 0h1m1 0h1m15 0h1m1 0h1m12 0h1m2 0h2m3 0h1m3 0h1m1 0h1m10 0h1m4 0h1m1 0h1m2 0h1m2 0h1m22 0h2m9 0h1m6 0h1m1 0h2m5 0h1m11 0h1m2 0h1m4 0h1m1 0h1m20 0h1m6 0h3m8 0h1m1 0h1m2 0h1m20 0h1M158 214h1m11 0h1m53 0h1m1 0h1m2 0h1m3 0h3m8 0h1m7 0h1m2 0h1m3 0h1m5 0h3m1 0h1m4 0h1m2 0h1m1 0h1m6 0h2m4 0h2m1 0h2m2 0h1m1 0h1m2 0h1m1 0h1m2 0h1m1 0h1m1 0h2m4 0h1m3 0h1m2 0h1m1 0h1m9 0h2m8 0h1m3 0h1m3 0h1m1 0h1m3 0h1m4 0h1m1 0h1m5 0h1m1 0h4m2 0h1m1 0h1m7 0h1m1 0h1m2 0h1m4 0h1m3 0h1m4 0h3m5 0h1m2 0h1m1 0h1m1 0h1m5 0h1m6 0h2m3 0h1m3 0h1m3 0h1m12 0h2m1 0h1m4 0h2m2 0h1m4 0h1m12 0h1m4 0h1m2 0h1m6 0h1m9 0h2m3 0h1m5 0h1m2 0h1m2 0h1m3 0h1m4 0h1m2 0h1m4 0h1m3 0h1m10 0h1m15 0h1m2 0h2m9 0h1m4 0h1m6 0h1m1 0h1m5 0h1m8 0h2m1 0h1m18 0h1m5 0h2m12 0h1m7 0h1m4 0h1m3 0h1m5 0h1m5 0h1m15 0h1m7 0h1m6 0h2m15 0h1m1 0h1m6 0h1m5 0h1m21 0h1m34 0h1M175 215h1m17 0h1m20 0h1m2 0h2m2 0h1m7 0h1m2 0h1m4 0h2m1 0h1m1 0h1m3 0h1m2 0h1m2 0h1m1 0h1m1 0h3m1 0h1m3 0h2m1 0h1m6 0h1m2 0h3m3 0h1m1 0h1m3 0h1m3 0h1m3 0h1m7 0h2m5 0h1m4 0h1m3 0h1m2 0h1m3 0h1m3 0h2m1 0h1m2 0h1m1 0h2m1 0h2m6 0h1m1 0h1m2 0h1m1 0h1m2 0h1m1 0h1m1 0h1m1 0h1m1 0h1m7 0h1m2 0h2m6 0h1m1 0h1m1 0h2m3 0h1m5 0h1m4 0h1m2 0h2m2 0h1m1 0h3m5 0h1m2 0h1m1 0h2m4 0h2m3 0h2m8 0h4m10 0h1m6 0h1m3 0h1m6 0h1m1 0h1m1 0h1m1 0h1m3 0h1m3 0h1m1 0h1m1 0h2m2 0h1m1 0h1m2 0h1m4 0h1m2 0h1m1 0h1m4 0h1m7 0h1m1 0h1m5 0h1m6 0h1m2 0h1m1 0h1m1 0h1m6 0h1m5 0h1m14 0h1m2 0h2m15 0h2m11 0h1m1 0h1m5 0h1m12 0h1m3 0h1m1 0h2m12 0h1m17 0h1m6 0h1m10 0h1m4 0h1m1 0h1m4 0h1m2 0h1m1 0h1m16 0h1m14 0h3m17 0h1m2 0h1m2 0h1m30 0h1m9 0h1M198 216h1m15 0h1m2 0h1m5 0h1m9 0h1m4 0h1m7 0h3m2 0h2m3 0h1m5 0h1m2 0h2m8 0h1m2 0h1m3 0h1m14 0h1m5 0h1m6 0h2m1 0h1m10 0h1m2 0h1m2 0h1m4 0h2m3 0h3m1 0h1m1 0h1m3 0h2m8 0h1m8 0h1m1 0h2m8 0h1m2 0h1m3 0h1m1 0h1m9 0h1m6 0h3m5 0h1m11 0h2m4 0h1m5 0h2m4 0h1m5 0h1m1 0h2m6 0h1m2 0h1m6 0h1m1 0h1m4 0h1m1 0h1m4 0h2m2 0h5m2 0h1m5 0h1m3 0h2m2 0h2m1 0h2m9 0h1m16 0h1m5 0h1m3 0h1m5 0h2m4 0h1m2 0h1m1 0h1m5 0h2m4 0h1m1 0h1m5 0h1m7 0h1m10 0h1m10 0h1m6 0h1m25 0h1m1 0h1m24 0h1m2 0h1m19 0h1m1 0h1m2 0h1m30 0h1m3 0h1m9 0h1m20 0h1m11 0h1M201 217h1m2 0h2m2 0h1m20 0h1m1 0h1m1 0h3m2 0h1m7 0h1m4 0h1m1 0h1m4 0h1m4 0h1m3 0h3m1 0h3m5 0h1m1 0h1m1 0h4m1 0h1m1 0h1m1 0h1m5 0h1m1 0h3m4 0h1m1 0h1m1 0h1m2 0h2m2 0h1m1 0h4m2 0h1m1 0h2m1 0h1m1 0h1m1 0h1m3 0h2m1 0h1m1 0h1m5 0h1m6 0h1m3 0h2m1 0h1m4 0h2m7 0h1m6 0h2m11 0h1m3 0h1m2 0h3m6 0h1m7 0h1m2 0h1m1 0h1m3 0h1m1 0h1m1 0h1m4 0h1m5 0h1m3 0h1m5 0h1m1 0h1m4 0h1m8 0h2m7 0h1m2 0h1m9 0h2m2 0h3m3 0h2m14 0h1m4 0h3m2 0h1m1 0h1m22 0h1m2 0h1m4 0h1m5 0h1m1 0h2m1 0h1m2 0h2m5 0h1m7 0h1m2 0h1m7 0h1m4 0h1m11 0h1m3 0h1m6 0h1m2 0h1m11 0h1m3 0h1m21 0h1m11 0h1m50 0h1m5 0h1m2 0h2m6 0h1m16 0h1M189 218h1m27 0h1m1 0h1m3 0h1m3 0h1m3 0h1m2 0h1m2 0h1m1 0h1m3 0h2m3 0h1m2 0h1m1 0h1m2 0h3m2 0h2m2 0h1m3 0h2m6 0h1m4 0h1m1 0h1m1 0h3m9 0h1m1 0h1m6 0h2m3 0h1m1 0h1m1 0h1m6 0h1m3 0h1m1 0h1m4 0h2m1 0h1m2 0h1m1 0h1m7 0h2m1 0h1m3 0h1m3 0h1m1 0h1m1 0h1m5 0h2m5 0h1m5 0h1m2 0h1m2 0h1m1 0h1m8 0h5m17 0h2m6 0h1m1 0h1m6 0h1m4 0h1m2 0h1m3 0h1m6 0h2m8 0h1m5 0h1m5 0h1m3 0h2m3 0h1m8 0h1m2 0h1m25 0h2m12 0h1m1 0h1m13 0h1m1 0h1m3 0h2m22 0h1m1 0h1m1 0h1m2 0h1m3 0h1m4 0h1m3 0h1m7 0h1m7 0h1m1 0h1m3 0h1m12 0h1m4 0h1m7 0h1m14 0h1m6 0h1m1 0h1m6 0h1m1 0h1m4 0h1m6 0h1m5 0h1m5 0h1m14 0h2m3 0h1m28 0h1M186 219h1m1 0h1m16 0h2m9 0h1m4 0h2m7 0h2m3 0h1m4 0h1m9 0h1m1 0h1m1 0h1m8 0h2m2 0h1m1 0h1m2 0h1m2 0h2m5 0h2m3 0h1m1 0h1m1 0h1m3 0h2m1 0h2m1 0h2m3 0h3m1 0h1m2 0h1m1 0h2m2 0h1m3 0h1m1 0h1m8 0h1m3 0h1m2 0h1m1 0h2m2 0h1m1 0h1m1 0h1m12 0h3m1 0h1m3 0h1m2 0h1m1 0h1m1 0h1m2 0h1m3 0h1m5 0h1m2 0h1m3 0h2m4 0h1m6 0h1m3 0h2m10 0h1m2 0h1m7 0h1m5 0h1m6 0h2m5 0h1m3 0h1m3 0h1m6 0h1m1 0h1m3 0h1m1 0h1m1 0h1m6 0h1m4 0h1m3 0h1m6 0h1m6 0h1m7 0h3m2 0h3m1 0h2m4 0h2m12 0h1m5 0h1m1 0h1m2 0h1m3 0h1m3 0h1m3 0h1m2 0h2m3 0h2m2 0h1m1 0h1m1 0h1m6 0h1m19 0h2m2 0h1m8 0h1m1 0h2m5 0h1m8 0h1m10 0h1m2 0h1m1 0h1m3 0h1m3 0h1m10 0h1m5 0h1m7 0h1m7 0h1m6 0h1m3 0h1m13 0h2m9 0h1m2 0h1m14 0h1m3 0h1m4 0h2m5 0h2m2 0h1m2 0h1M176 220h1m5 0h1m16 0h2m6 0h1m2 0h1m5 0h2m12 0h1m2 0h1m1 0h1m1 0h3m4 0h1m2 0h2m6 0h1m1 0h1m2 0h3m6 0h1m5 0h1m1 0h1m2 0h3m4 0h2m2 0h1m1 0h1m3 0h2m1 0h1m2 0h3m2 0h2m1 0h1m7 0h3m2 0h1m3 0h1m6 0h1m8 0h2m1 0h2m4 0h1m8 0h2m1 0h1m2 0h1m1 0h2m9 0h1m1 0h2m7 0h1m8 0h1m1 0h3m4 0h1m1 0h1m1 0h1m1 0h1m4 0h2m2 0h1m13 0h1m3 0h1m2 0h1m9 0h1m10 0h1m16 0h1m3 0h1m2 0h1m5 0h1m1 0h1m3 0h2m9 0h1m1 0h1m10 0h1m3 0h1m1 0h4m5 0h1m3 0h1m5 0h1m8 0h1m4 0h1m3 0h1m3 0h1m4 0h1m1 0h1m10 0h1m28 0h1m2 0h1m6 0h1m2 0h1m6 0h1m3 0h1m1 0h3m3 0h1m6 0h1m6 0h1m4 0h1m16 0h1m7 0h1m2 0h1m16 0h2m31 0h1m11 0h1m7 0h1m26 0h1M132 221h1m11 0h1m34 0h1m6 0h1m10 0h2m2 0h1m5 0h1m2 0h1m2 0h1m4 0h1m9 0h2m3 0h2m1 0h1m1 0h2m3 0h1m3 0h3m4 0h1m2 0h1m2 0h5m2 0h2m5 0h1m3 0h6m1 0h2m7 0h1m1 0h1m2 0h1m2 0h1m3 0h1m2 0h2m1 0h1m2 0h2m1 0h1m1 0h1m4 0h1m4 0h1m1 0h1m5 0h1m1 0h1m4 0h1m7 0h3m2 0h1m2 0h1m13 0h1m3 0h1m3 0h1m2 0h1m2 0h1m1 0h1m4 0h2m2 0h2m2 0h1m9 0h3m4 0h1m1 0h1m9 0h2m7 0h1m8 0h2m8 0h4m3 0h1m1 0h1m1 0h1m4 0h1m3 0h1m8 0h1m10 0h1m1 0h1m3 0h1m8 0h2m1 0h1m1 0h1m4 0h1m2 0h1m1 0h1m5 0h2m6 0h1m4 0h1m1 0h1m2 0h2m3 0h1m2 0h1m11 0h1m5 0h2m4 0h1m6 0h1m7 0h1m5 0h1m2 0h1m2 0h1m8 0h1m1 0h1m4 0h1m7 0h1m7 0h1m3 0h1m13 0h1m3 0h1m2 0h1m6 0h1m7 0h1m5 0h1m14 0h1m4 0h1m6 0h1m3 0h1m15 0h1m2 0h1m4 0h1m4 0h1m5 0h2m21 0h1M156 222h1m10 0h1m12 0h1m14 0h1m4 0h1m1 0h1m1 0h2m5 0h1m3 0h3m1 0h1m1 0h1m5 0h1m2 0h4m8 0h1m6 0h1m3 0h3m6 0h1m2 0h1m3 0h1m1 0h1m9 0h3m8 0h2m4 0h1m4 0h1m4 0h1m2 0h1m7 0h1m2 0h2m3 0h1m5 0h2m3 0h1m8 0h2m1 0h1m6 0h1m1 0h1m3 0h2m3 0h3m2 0h1m5 0h1m1 0h2m6 0h1m4 0h1m1 0h1m11 0h3m1 0h1m7 0h2m11 0h1m1 0h1m4 0h1m2 0h1m13 0h2m2 0h2m3 0h1m2 0h3m2 0h3m2 0h1m4 0h1m7 0h1m1 0h1m8 0h1m2 0h1m2 0h1m2 0h2m5 0h1m1 0h1m1 0h1m4 0h1m1 0h1m5 0h1m10 0h1m1 0h1m2 0h1m6 0h1m11 0h1m1 0h2m4 0h1m14 0h1m5 0h2m4 0h1m11 0h1m5 0h2m7 0h1m2 0h2m1 0h1m2 0h1m3 0h1m3 0h1m4 0h1m11 0h1m8 0h1m26 0h1m2 0h1m14 0h1m3 0h1m3 0h1m10 0h1m13 0h1m13 0h1m6 0h1M138 223h1m25 0h1m16 0h1m3 0h1m7 0h2m4 0h1m2 0h2m4 0h1m1 0h1m2 0h4m5 0h1m2 0h1m1 0h1m3 0h1m4 0h2m2 0h2m5 0h1m2 0h1m1 0h2m1 0h2m3 0h2m10 0h1m4 0h3m2 0h1m2 0h1m9 0h2m2 0h1m2 0h2m10 0h1m2 0h1m3 0h1m1 0h2m1 0h1m1 0h2m2 0h1m1 0h2m3 0h1m1 0h1m2 0h1m9 0h1m2 0h1m1 0h1m4 0h1m5 0h1m1 0h1m3 0h1m4 0h2m4 0h1m3 0h1m4 0h2m3 0h1m5 0h1m1 0h1m4 0h1m7 0h1m8 0h2m10 0h1m1 0h1m1 0h2m2 0h1m4 0h2m1 0h1m4 0h2m3 0h2m2 0h1m1 0h1m2 0h1m1 0h2m1 0h1m2 0h1m4 0h1m1 0h3m1 0h1m7 0h1m8 0h1m2 0h2m2 0h3m14 0h1m1 0h1m4 0h1m13 0h1m4 0h4m4 0h1m8 0h1m2 0h1m11 0h1m5 0h1m7 0h1m7 0h1m4 0h1m6 0h1m3 0h1m5 0h1m1 0h1m4 0h1m5 0h1m7 0h2m32 0h1m4 0h1m12 0h1m12 0h1m9 0h1m17 0h1m1 0h1m9 0h1m1 0h1m5 0h1M147 224h1m17 0h1m5 0h1m1 0h1m2 0h4m2 0h1m4 0h2m5 0h1m4 0h1m6 0h1m1 0h1m6 0h1m1 0h1m10 0h1m2 0h1m4 0h3m4 0h1m1 0h1m4 0h1m2 0h1m1 0h2m13 0h1m10 0h3m1 0h1m1 0h3m10 0h1m1 0h1m1 0h4m2 0h1m2 0h1m1 0h2m6 0h1m2 0h3m6 0h1m1 0h3m1 0h1m6 0h1m4 0h1m1 0h1m8 0h1m5 0h1m3 0h3m1 0h1m3 0h1m4 0h2m1 0h1m3 0h1m1 0h1m1 0h1m4 0h1m2 0h2m2 0h1m6 0h2m1 0h1m3 0h1m4 0h1m4 0h1m3 0h3m3 0h1m8 0h1m1 0h1m4 0h2m2 0h1m9 0h1m1 0h1m9 0h1m1 0h1m1 0h1m3 0h1m2 0h3m1 0h1m1 0h1m1 0h1m1 0h1m2 0h1m2 0h2m1 0h1m1 0h1m2 0h1m4 0h1m5 0h2m17 0h1m5 0h2m12 0h1m18 0h1m1 0h2m1 0h1m1 0h1m3 0h2m5 0h2m3 0h2m23 0h1m1 0h1m1 0h1m5 0h1m1 0h1m15 0h1m4 0h1m2 0h1m2 0h2m5 0h1m7 0h1m18 0h1m3 0h2m3 0h1m4 0h2m8 0h1m4 0h1m8 0h1M153 225h2m12 0h1m8 0h1m2 0h3m4 0h2m2 0h3m1 0h2m5 0h2m1 0h1m6 0h2m4 0h1m6 0h2m5 0h2m3 0h3m2 0h1m3 0h2m8 0h2m1 0h1m5 0h2m3 0h2m1 0h1m2 0h1m2 0h1m12 0h1m2 0h1m5 0h1m13 0h4m2 0h1m1 0h2m1 0h2m5 0h1m2 0h1m2 0h1m1 0h1m4 0h2m1 0h1m5 0h1m4 0h3m6 0h1m2 0h1m4 0h1m2 0h3m3 0h2m1 0h1m1 0h1m1 0h1m1 0h3m4 0h1m1 0h3m2 0h2m4 0h1m2 0h1m4 0h1m2 0h1m3 0h1m3 0h1m4 0h1m2 0h1m4 0h1m3 0h2m16 0h1m1 0h1m1 0h3m2 0h1m4 0h1m2 0h1m7 0h1m8 0h1m2 0h1m1 0h1m7 0h1m8 0h1m4 0h1m2 0h1m1 0h1m11 0h1m6 0h1m1 0h2m2 0h1m2 0h1m8 0h1m3 0h1m1 0h1m23 0h1m2 0h1m2 0h1m10 0h1m11 0h1m2 0h1m1 0h1m5 0h2m4 0h1m2 0h2m3 0h2m13 0h1m16 0h1m3 0h1m16 0h1M139 226h1m8 0h1m9 0h1m3 0h2m1 0h1m9 0h1m3 0h1m3 0h1m1 0h2m1 0h3m2 0h1m6 0h2m1 0h2m4 0h4m2 0h1m1 0h2m2 0h1m1 0h1m6 0h1m2 0h1m7 0h1m3 0h2m5 0h1m4 0h1m1 0h2m3 0h3m1 0h1m2 0h1m1 0h1m1 0h1m9 0h1m1 0h1m2 0h1m1 0h1m6 0h1m1 0h1m10 0h2m1 0h1m1 0h1m3 0h1m3 0h1m4 0h1m2 0h1m3 0h2m1 0h1m5 0h1m6 0h2m3 0h2m4 0h1m1 0h1m3 0h1m1 0h3m16 0h1m1 0h1m7 0h1m1 0h1m1 0h2m3 0h1m6 0h2m2 0h2m1 0h1m3 0h1m2 0h2m3 0h1m2 0h2m5 0h2m4 0h1m1 0h1m1 0h1m3 0h2m1 0h1m2 0h1m7 0h2m2 0h1m4 0h2m5 0h5m4 0h1m9 0h3m5 0h1m1 0h1m7 0h1m3 0h1m1 0h1m8 0h4m11 0h1m16 0h1m2 0h1m7 0h2m2 0h1m1 0h3m9 0h1m17 0h1m2 0h1m4 0h1m15 0h1m4 0h1m14 0h1m11 0h1m26 0h1m20 0h1m2 0h1m8 0h2M122 227h1m4 0h1m16 0h1m10 0h1m6 0h1m3 0h1m6 0h1m1 0h1m3 0h1m1 0h1m1 0h5m4 0h1m3 0h2m2 0h2m3 0h2m2 0h1m2 0h1m5 0h1m3 0h2m2 0h1m1 0h3m2 0h1m1 0h2m1 0h1m3 0h1m6 0h1m3 0h1m1 0h1m5 0h3m2 0h1m1 0h1m5 0h2m2 0h1m2 0h2m2 0h2m5 0h1m1 0h1m10 0h3m3 0h2m2 0h1m2 0h2m2 0h1m4 0h1m4 0h1m1 0h1m1 0h2m1 0h1m2 0h1m1 0h1m2 0h1m4 0h1m5 0h2m1 0h1m3 0h2m1 0h3m2 0h1m1 0h2m4 0h1m1 0h1m2 0h2m2 0h1m4 0h2m3 0h1m12 0h1m2 0h3m2 0h2m7 0h1m1 0h1m2 0h3m3 0h1m1 0h1m2 0h1m3 0h1m8 0h3m16 0h2m4 0h1m6 0h1m2 0h1m2 0h1m5 0h1m6 0h1m3 0h1m17 0h1m10 0h2m1 0h1m1 0h1m3 0h1m5 0h1m3 0h1m2 0h1m3 0h1m8 0h1m5 0h1m1 0h1m7 0h1m4 0h1m8 0h1m9 0h1m2 0h1m6 0h1m5 0h2m4 0h1m14 0h2m5 0h1m8 0h2m2 0h1m9 0h2m8 0h1m14 0h1m1 0h1m2 0h1m17 0h1m3 0h1m2 0h1m8 0h1M105 228h1m33 0h1m2 0h1m14 0h1m1 0h1m8 0h1m5 0h1m2 0h5m1 0h1m4 0h2m7 0h1m1 0h1m1 0h1m3 0h1m2 0h1m2 0h1m1 0h1m1 0h1m11 0h2m1 0h1m1 0h2m1 0h3m6 0h1m1 0h1m1 0h1m2 0h1m5 0h2m1 0h2m1 0h1m3 0h3m2 0h2m1 0h1m2 0h3m4 0h3m1 0h1m5 0h1m6 0h1m1 0h3m3 0h1m2 0h2m1 0h1m1 0h2m3 0h1m1 0h1m3 0h1m1 0h3m1 0h1m3 0h2m13 0h1m3 0h2m11 0h1m6 0h1m3 0h1m4 0h2m5 0h2m2 0h1m3 0h1m1 0h2m2 0h1m6 0h1m2 0h1m4 0h1m8 0h2m1 0h1m1 0h3m3 0h1m1 0h1m1 0h3m6 0h1m2 0h1m3 0h2m1 0h2m1 0h3m14 0h1m4 0h1m5 0h1m1 0h1m1 0h1m1 0h1m1 0h4m6 0h1m2 0h1m2 0h2m5 0h1m13 0h2m2 0h1m5 0h1m6 0h1m2 0h1m2 0h1m1 0h1m3 0h1m3 0h1m5 0h1m4 0h1m2 0h1m12 0h1m3 0h1m1 0h1m2 0h1m1 0h1m16 0h2m7 0h1m1 0h1m1 0h1m1 0h1m3 0h1m2 0h1m3 0h1m5 0h1m26 0h1m14 0h1m10 0h1m12 0h2m6 0h1m21 0h2M161 229h1m11 0h3m2 0h4m7 0h1m2 0h1m1 0h3m1 0h1m1 0h1m1 0h1m3 0h1m2 0h1m3 0h1m1 0h1m3 0h1m4 0h1m2 0h1m4 0h3m5 0h1m3 0h1m9 0h1m1 0h3m1 0h3m3 0h2m13 0h3m3 0h1m1 0h1m2 0h1m2 0h1m8 0h2m1 0h1m3 0h1m2 0h1m1 0h1m3 0h1m1 0h1m2 0h2m2 0h2m3 0h2m1 0h1m3 0h1m3 0h1m6 0h1m5 0h1m3 0h1m1 0h2m8 0h1m2 0h3m16 0h4m1 0h1m4 0h1m1 0h1m2 0h2m6 0h2m4 0h2m2 0h2m1 0h1m2 0h3m1 0h1m5 0h1m4 0h1m6 0h2m1 0h2m11 0h1m1 0h1m1 0h1m5 0h1m1 0h2m8 0h2m2 0h1m10 0h1m1 0h1m1 0h1m2 0h2m7 0h3m6 0h2m2 0h1m2 0h1m1 0h2m1 0h2m15 0h2m10 0h2m6 0h1m1 0h2m10 0h1m10 0h1m1 0h1m2 0h1m3 0h1m8 0h1m15 0h2m3 0h1m2 0h2m28 0h1m17 0h1m22 0h1m3 0h1m22 0h1m7 0h1M130 230h1m23 0h1m6 0h1m1 0h1m2 0h1m3 0h1m5 0h1m5 0h3m1 0h1m3 0h1m1 0h1m1 0h3m9 0h2m4 0h3m1 0h3m1 0h1m5 0h1m3 0h1m1 0h3m2 0h2m3 0h1m1 0h2m2 0h1m1 0h1m4 0h2m2 0h1m2 0h1m1 0h1m6 0h1m3 0h4m2 0h1m1 0h1m3 0h1m3 0h3m1 0h2m4 0h1m1 0h2m2 0h1m1 0h1m2 0h2m4 0h2m1 0h1m2 0h1m3 0h1m3 0h2m15 0h1m2 0h1m1 0h1m1 0h1m3 0h2m3 0h1m10 0h3m3 0h1m3 0h1m6 0h1m11 0h1m2 0h2m10 0h4m3 0h1m5 0h1m4 0h1m2 0h2m8 0h2m6 0h1m9 0h3m6 0h3m7 0h1m1 0h1m8 0h1m3 0h1m3 0h1m6 0h1m8 0h1m9 0h1m1 0h1m3 0h1m6 0h1m6 0h1m2 0h1m11 0h1m21 0h1m5 0h1m1 0h1m13 0h1m3 0h2m15 0h1m1 0h2m5 0h1m12 0h1m20 0h1m2 0h2m6 0h2m36 0h1m1 0h1M118 231h1m24 0h1m7 0h1m4 0h2m2 0h1m1 0h1m2 0h2m1 0h4m1 0h2m1 0h2m3 0h3m1 0h2m2 0h1m4 0h1m2 0h2m1 0h1m1 0h3m3 0h2m1 0h1m1 0h1m2 0h1m3 0h1m4 0h1m2 0h1m4 0h2m3 0h2m3 0h2m3 0h2m2 0h1m8 0h1m1 0h1m3 0h1m5 0h1m1 0h2m5 0h1m1 0h2m3 0h2m1 0h3m3 0h2m4 0h2m2 0h1m3 0h1m2 0h1m7 0h1m2 0h1m2 0h1m8 0h1m2 0h1m4 0h1m2 0h3m1 0h1m2 0h4m2 0h1m4 0h1m4 0h1m14 0h1m1 0h1m12 0h1m3 0h1m3 0h2m1 0h1m1 0h1m5 0h3m1 0h1m1 0h2m1 0h1m6 0h1m4 0h2m15 0h1m8 0h2m4 0h2m1 0h2m8 0h1m3 0h1m5 0h1m1 0h2m16 0h1m2 0h1m1 0h2m2 0h1m1 0h1m12 0h2m7 0h1m4 0h1m14 0h1m2 0h1m8 0h1m4 0h1m3 0h1m4 0h2m2 0h1m1 0h1m1 0h1m14 0h2m12 0h1m15 0h1m16 0h1m11 0h1m4 0h1m24 0h1m6 0h1M146 232h1m2 0h1m3 0h1m5 0h4m7 0h2m3 0h2m1 0h1m1 0h1m5 0h1m1 0h3m5 0h1m4 0h2m1 0h1m1 0h5m1 0h1m2 0h1m2 0h1m1 0h2m3 0h3m4 0h1m2 0h1m1 0h1m1 0h1m1 0h1m1 0h1m1 0h1m1 0h1m3 0h2m11 0h1m4 0h1m1 0h3m1 0h3m8 0h1m2 0h1m1 0h1m1 0h1m2 0h1m2 0h3m6 0h1m3 0h1m4 0h3m1 0h1m3 0h1m1 0h1m3 0h2m1 0h1m7 0h1m5 0h1m5 0h1m2 0h1m1 0h1m1 0h1m1 0h2m1 0h1m4 0h1m1 0h1m6 0h2m2 0h2m6 0h1m1 0h1m3 0h3m5 0h1m1 0h1m4 0h2m4 0h1m2 0h2m5 0h1m1 0h1m12 0h1m19 0h1m8 0h2m1 0h1m4 0h1m5 0h3m2 0h2m1 0h1m6 0h1m5 0h1m11 0h1m8 0h2m9 0h1m2 0h2m3 0h1m10 0h2m1 0h1m4 0h2m10 0h1m5 0h1m7 0h1m1 0h1m1 0h1m3 0h1m3 0h2m3 0h1m1 0h1m2 0h1m13 0h1m5 0h1m2 0h1m2 0h1m25 0h1m3 0h1m4 0h1m1 0h1m9 0h1m10 0h1m5 0h1M89 233h1m37 0h1m12 0h1m7 0h7m4 0h2m3 0h2m1 0h2m3 0h2m4 0h1m3 0h1m1 0h2m11 0h1m2 0h2m1 0h1m1 0h1m2 0h1m2 0h1m6 0h1m2 0h1m1 0h1m4 0h2m1 0h1m10 0h4m1 0h1m9 0h3m3 0h1m1 0h2m1 0h1m3 0h1m3 0h1m4 0h1m2 0h1m2 0h1m8 0h1m3 0h1m8 0h1m3 0h1m3 0h1m2 0h2m7 0h1m4 0h1m1 0h3m3 0h1m3 0h1m4 0h3m2 0h1m1 0h1m3 0h1m6 0h2m3 0h1m2 0h1m4 0h1m1 0h1m2 0h1m7 0h1m1 0h1m1 0h2m1 0h1m2 0h1m2 0h1m1 0h1m3 0h2m2 0h1m5 0h1m4 0h1m2 0h1m1 0h1m1 0h2m9 0h1m4 0h1m1 0h1m6 0h3m1 0h1m2 0h1m3 0h1m2 0h1m10 0h1m1 0h1m5 0h1m6 0h1m8 0h3m2 0h1m24 0h1m1 0h1m9 0h1m4 0h1m2 0h1m4 0h1m3 0h2m1 0h1m5 0h3m10 0h1m10 0h1m4 0h1m15 0h2m8 0h1m8 0h1m9 0h1m5 0h1m7 0h1m2 0h1m1 0h2m2 0h1m4 0h1m1 0h1m6 0h1m33 0h1m8 0h1m7 0h1M135 234h1m6 0h1m5 0h2m7 0h2m1 0h1m1 0h1m1 0h1m1 0h2m9 0h3m1 0h3m1 0h1m2 0h2m1 0h1m2 0h1m1 0h1m1 0h1m3 0h1m1 0h2m1 0h2m4 0h2m9 0h1m2 0h1m2 0h2m1 0h1m1 0h1m3 0h1m5 0h1m4 0h2m1 0h2m4 0h1m3 0h2m14 0h2m8 0h1m1 0h1m2 0h1m1 0h1m4 0h1m2 0h1m5 0h2m4 0h1m2 0h3m3 0h2m7 0h1m6 0h1m5 0h1m1 0h2m5 0h1m1 0h3m1 0h1m1 0h1m2 0h1m2 0h1m5 0h2m4 0h1m9 0h3m8 0h2m3 0h1m1 0h3m3 0h1m5 0h2m2 0h2m5 0h1m2 0h3m3 0h2m2 0h1m7 0h1m7 0h1m7 0h1m7 0h1m4 0h1m2 0h2m9 0h1m11 0h1m3 0h2m3 0h1m2 0h1m8 0h2m1 0h1m3 0h1m5 0h1m4 0h1m12 0h1m9 0h1m12 0h1m4 0h1m2 0h1m1 0h1m5 0h1m4 0h1m3 0h1m13 0h2m1 0h1m2 0h1m24 0h1m5 0h1m1 0h1m6 0h1m9 0h2m1 0h1m17 0h1M109 235h1m5 0h1m17 0h2m1 0h1m4 0h2m6 0h1m5 0h1m1 0h1m2 0h1m1 0h4m1 0h1m2 0h1m4 0h2m7 0h2m1 0h4m1 0h3m1 0h1m1 0h1m2 0h1m2 0h1m1 0h1m3 0h2m2 0h1m1 0h1m1 0h1m2 0h1m1 0h1m1 0h1m2 0h2m1 0h1m1 0h1m4 0h1m6 0h1m2 0h3m3 0h1m2 0h1m1 0h2m3 0h1m3 0h5m1 0h3m2 0h2m6 0h1m4 0h1m2 0h3m1 0h1m4 0h1m1 0h1m7 0h1m2 0h1m2 0h3m6 0h1m1 0h1m5 0h5m6 0h1m1 0h1m1 0h2m1 0h1m4 0h1m1 0h1m6 0h3m1 0h3m6 0h4m1 0h1m4 0h1m4 0h1m1 0h1m3 0h3m2 0h2m7 0h1m2 0h1m1 0h1m2 0h1m7 0h2m1 0h1m10 0h1m1 0h1m2 0h1m4 0h4m1 0h1m6 0h1m20 0h3m1 0h1m8 0h1m9 0h2m7 0h2m3 0h1m2 0h1m2 0h1m15 0h2m14 0h3m3 0h3m2 0h1m1 0h1m2 0h2m1 0h3m1 0h1m4 0h1m3 0h1m26 0h1m11 0h1m16 0h2m1 0h1m8 0h1m9 0h2m8 0h1m7 0h1m12 0h1m11 0h1M136 236h1m7 0h3m6 0h3m1 0h1m3 0h1m2 0h2m2 0h1m4 0h1m1 0h2m1 0h1m5 0h1m2 0h1m4 0h1m2 0h1m1 0h1m3 0h1m2 0h3m2 0h3m1 0h2m2 0h1m1 0h1m1 0h2m3 0h1m1 0h1m1 0h2m2 0h2m6 0h2m4 0h1m7 0h2m1 0h1m3 0h1m1 0h2m5 0h2m1 0h1m2 0h1m2 0h1m14 0h1m5 0h2m2 0h1m3 0h1m1 0h1m4 0h1m3 0h1m3 0h2m13 0h1m3 0h1m5 0h1m8 0h1m1 0h1m6 0h1m1 0h1m12 0h1m17 0h1m1 0h1m9 0h1m6 0h1m3 0h1m3 0h2m2 0h1m3 0h1m1 0h1m3 0h1m4 0h1m1 0h1m1 0h3m2 0h1m18 0h1m2 0h1m2 0h1m1 0h1m9 0h1m3 0h1m6 0h1m7 0h1m10 0h1m14 0h1m1 0h1m5 0h1m2 0h2m12 0h1m5 0h1m1 0h2m1 0h1m3 0h1m3 0h2m8 0h1m1 0h2m5 0h1m4 0h1m2 0h1m9 0h1m5 0h1m3 0h2m15 0h1m15 0h1m10 0h1m2 0h1m5 0h2m10 0h1m5 0h1m1 0h1m7 0h1M83 237h1m7 0h1m30 0h2m7 0h1m1 0h3m3 0h1m5 0h1m2 0h2m3 0h1m1 0h1m2 0h3m3 0h1m4 0h1m4 0h1m1 0h1m1 0h1m3 0h1m5 0h5m2 0h2m2 0h1m2 0h1m1 0h2m2 0h1m4 0h1m2 0h1m4 0h1m3 0h1m1 0h1m1 0h3m5 0h3m4 0h1m1 0h1m1 0h1m1 0h1m4 0h3m4 0h1m2 0h3m1 0h2m4 0h1m1 0h2m1 0h1m1 0h4m2 0h1m8 0h1m1 0h3m1 0h1m7 0h1m2 0h1m1 0h1m2 0h1m2 0h2m1 0h1m3 0h1m2 0h1m1 0h1m1 0h2m3 0h1m1 0h2m1 0h1m5 0h1m6 0h1m2 0h1m1 0h1m3 0h1m7 0h1m6 0h2m1 0h1m6 0h1m2 0h2m1 0h2m2 0h2m4 0h1m1 0h1m5 0h1m11 0h3m1 0h1m11 0h1m10 0h2m3 0h2m3 0h1m5 0h1m3 0h1m2 0h1m1 0h1m7 0h2m2 0h2m7 0h1m1 0h2m2 0h1m4 0h1m9 0h1m1 0h1m4 0h2m19 0h1m1 0h1m3 0h1m7 0h2m7 0h1m4 0h1m2 0h2m2 0h1m8 0h1m8 0h1m9 0h1m3 0h1m2 0h1m10 0h1m11 0h1m3 0h1m1 0h1m20 0h1m8 0h1m12 0h1m5 0h1m12 0h1M102 238h1m2 0h1m12 0h1m1 0h1m5 0h1m6 0h2m2 0h2m5 0h2m4 0h1m3 0h1m1 0h2m10 0h1m2 0h1m1 0h2m1 0h4m9 0h2m2 0h1m2 0h2m3 0h1m1 0h1m15 0h1m2 0h2m2 0h3m4 0h1m10 0h3m1 0h1m3 0h1m1 0h2m4 0h2m1 0h2m3 0h1m5 0h1m6 0h1m2 0h1m1 0h1m2 0h1m4 0h1m1 0h3m1 0h1m1 0h2m2 0h2m4 0h1m2 0h1m1 0h1m3 0h2m1 0h1m7 0h1m7 0h1m2 0h2m1 0h1m1 0h2m2 0h3m2 0h2m5 0h1m15 0h1m2 0h1m3 0h1m4 0h2m2 0h1m3 0h2m3 0h1m8 0h2m1 0h1m7 0h1m3 0h1m1 0h1m2 0h1m6 0h1m1 0h1m8 0h1m7 0h1m1 0h2m6 0h1m10 0h1m9 0h1m1 0h1m1 0h1m2 0h2m4 0h1m1 0h1m8 0h2m2 0h2m2 0h1m1 0h3m3 0h1m3 0h1m2 0h1m2 0h4m1 0h1m10 0h1m7 0h1m5 0h1m1 0h1m3 0h1m4 0h1m1 0h1m7 0h1m6 0h1m15 0h1m10 0h1m5 0h1m8 0h1m13 0h1m2 0h1m14 0h1m2 0h1m11 0h2m6 0h1M101 239h1m6 0h1m10 0h2m5 0h3m2 0h1m1 0h1m1 0h1m3 0h2m1 0h1m1 0h1m1 0h1m1 0h1m3 0h1m3 0h1m1 0h4m4 0h1m5 0h1m2 0h1m2 0h2m2 0h1m1 0h1m2 0h2m1 0h4m4 0h1m7 0h1m1 0h1m5 0h1m2 0h1m1 0h2m1 0h3m3 0h1m2 0h1m9 0h1m3 0h3m4 0h2m2 0h1m1 0h1m2 0h1m10 0h1m2 0h1m7 0h1m11 0h1m2 0h4m3 0h2m3 0h1m1 0h2m1 0h2m1 0h1m9 0h2m4 0h1m2 0h4m1 0h3m2 0h1m1 0h1m1 0h2m5 0h4m9 0h1m13 0h1m8 0h2m2 0h1m6 0h2m3 0h1m2 0h1m1 0h3m1 0h1m5 0h2m8 0h1m3 0h1m2 0h4m12 0h2m10 0h1m7 0h1m6 0h1m3 0h1m1 0h1m2 0h1m10 0h1m1 0h1m2 0h1m6 0h1m1 0h1m3 0h1m6 0h3m2 0h1m8 0h1m7 0h2m16 0h2m1 0h1m1 0h2m4 0h1m2 0h1m24 0h1m23 0h2m39 0h1m4 0h1M99 240h1m11 0h1m13 0h1m8 0h3m4 0h3m7 0h1m1 0h1m2 0h2m5 0h1m1 0h1m4 0h1m1 0h1m1 0h1m5 0h1m9 0h1m1 0h1m2 0h1m1 0h1m1 0h1m1 0h1m1 0h1m1 0h1m2 0h1m1 0h1m1 0h3m1 0h2m5 0h1m2 0h2m2 0h2m1 0h2m1 0h1m2 0h4m4 0h1m2 0h1m1 0h1m1 0h2m1 0h1m7 0h2m2 0h1m2 0h2m1 0h1m1 0h1m1 0h1m4 0h5m1 0h1m1 0h4m1 0h1m5 0h1m2 0h1m3 0h1m1 0h1m1 0h6m7 0h1m2 0h2m3 0h2m6 0h1m2 0h2m8 0h1m2 0h1m2 0h1m6 0h1m1 0h1m1 0h1m9 0h1m1 0h1m3 0h1m2 0h1m7 0h1m1 0h1m1 0h1m2 0h1m2 0h1m5 0h1m3 0h2m19 0h1m1 0h2m7 0h2m1 0h1m1 0h2m13 0h3m1 0h1m1 0h1m1 0h2m4 0h1m2 0h1m2 0h2m3 0h1m2 0h1m1 0h2m5 0h2m1 0h1m7 0h1m10 0h1m3 0h1m4 0h1m5 0h1m4 0h3m12 0h1m20 0h2m4 0h1m2 0h1m2 0h1m2 0h1m3 0h1m2 0h1m1 0h1m7 0h1m34 0h1m4 0h1m1 0h3m15 0h1m15 0h1M88 241h1m8 0h2m3 0h1m21 0h1m4 0h3m2 0h1m2 0h1m1 0h1m4 0h1m1 0h1m4 0h2m1 0h1m1 0h2m1 0h4m3 0h1m6 0h3m3 0h1m4 0h1m3 0h4m2 0h1m3 0h1m3 0h1m7 0h1m4 0h1m4 0h1m1 0h2m1 0h1m2 0h6m4 0h3m1 0h2m1 0h1m7 0h1m5 0h2m1 0h1m2 0h1m1 0h1m1 0h2m2 0h1m2 0h2m4 0h2m8 0h2m3 0h1m1 0h1m2 0h1m6 0h1m2 0h1m1 0h1m9 0h1m2 0h1m3 0h2m1 0h1m2 0h1m9 0h1m12 0h1m2 0h1m2 0h1m3 0h1m4 0h1m2 0h2m3 0h1m1 0h1m3 0h1m8 0h2m6 0h1m2 0h3m2 0h1m1 0h1m9 0h1m2 0h1m2 0h1m2 0h2m1 0h1m1 0h1m1 0h1m1 0h2m3 0h5m4 0h1m9 0h1m2 0h1m3 0h1m8 0h1m5 0h1m12 0h1m1 0h2m1 0h1m3 0h1m3 0h1m1 0h1m4 0h1m7 0h3m3 0h2m3 0h1m6 0h1m9 0h2m4 0h1m1 0h1m4 0h1m5 0h1m2 0h1m1 0h1m4 0h2m1 0h2m31 0h1m5 0h2m13 0h2m26 0h1m12 0h2M103 242h1m7 0h1m3 0h1m10 0h1m2 0h3m1 0h1m1 0h3m7 0h2m1 0h4m1 0h6m2 0h1m3 0h3m3 0h1m2 0h4m1 0h1m1 0h2m1 0h1m7 0h1m3 0h1m3 0h1m1 0h1m8 0h2m1 0h1m2 0h3m1 0h2m3 0h2m2 0h2m7 0h1m8 0h2m4 0h1m7 0h1m4 0h1m3 0h2m3 0h1m1 0h1m1 0h1m2 0h1m2 0h1m1 0h1m1 0h1m1 0h1m2 0h1m2 0h3m1 0h1m6 0h2m1 0h1m2 0h1m15 0h1m4 0h2m2 0h3m3 0h1m1 0h2m1 0h1m2 0h2m3 0h1m6 0h1m5 0h2m5 0h3m2 0h1m5 0h1m2 0h4m3 0h1m7 0h1m1 0h2m7 0h2m2 0h1m4 0h1m3 0h1m2 0h2m9 0h2m4 0h1m3 0h1m4 0h1m4 0h1m2 0h1m1 0h3m3 0h2m5 0h1m13 0h2m9 0h1m32 0h1m4 0h1m3 0h1m3 0h1m8 0h1m11 0h1m2 0h1m1 0h1m4 0h1m5 0h1m2 0h1m1 0h1m3 0h1m2 0h1m1 0h1m2 0h1m11 0h1m3 0h1m9 0h1m2 0h1m29 0h1m11 0h1m2 0h1m7 0h1M97 243h1m2 0h1m4 0h1m2 0h1m5 0h1m2 0h1m3 0h1m5 0h3m13 0h1m1 0h3m1 0h2m2 0h2m2 0h2m1 0h1m1 0h2m1 0h1m7 0h1m4 0h3m2 0h1m2 0h3m3 0h1m1 0h1m3 0h1m5 0h1m1 0h1m4 0h1m2 0h1m3 0h1m1 0h1m2 0h3m2 0h2m1 0h5m1 0h1m3 0h2m1 0h1m3 0h2m1 0h1m3 0h1m6 0h1m5 0h5m5 0h2m2 0h1m1 0h1m2 0h2m1 0h1m1 0h1m1 0h1m1 0h1m2 0h1m8 0h1m10 0h5m1 0h2m10 0h1m4 0h1m2 0h1m1 0h1m3 0h1m5 0h1m4 0h1m7 0h1m8 0h2m4 0h1m7 0h1m2 0h2m1 0h1m2 0h1m12 0h1m2 0h1m4 0h1m11 0h1m5 0h2m3 0h2m1 0h1m8 0h1m1 0h1m6 0h1m2 0h1m1 0h1m1 0h2m6 0h1m2 0h1m5 0h2m1 0h1m10 0h1m1 0h2m5 0h1m5 0h1m17 0h1m9 0h1m11 0h2m1 0h3m16 0h2m6 0h1m32 0h4m11 0h1m6 0h1m6 0h1m14 0h1m10 0h1M102 244h1m1 0h2m4 0h1m11 0h1m1 0h1m6 0h2m1 0h6m3 0h1m1 0h1m1 0h1m6 0h1m1 0h1m1 0h2m7 0h1m2 0h1m7 0h1m6 0h2m3 0h2m5 0h2m1 0h2m2 0h1m2 0h3m2 0h2m2 0h1m1 0h1m2 0h2m2 0h2m3 0h1m1 0h1m5 0h3m6 0h1m1 0h3m1 0h1m1 0h1m1 0h1m5 0h1m1 0h1m2 0h3m3 0h1m1 0h2m1 0h2m1 0h2m2 0h2m2 0h1m2 0h1m2 0h2m2 0h1m1 0h1m2 0h1m1 0h1m1 0h1m1 0h1m6 0h1m2 0h1m2 0h1m2 0h1m1 0h3m5 0h1m6 0h2m7 0h3m1 0h1m5 0h1m3 0h1m1 0h1m1 0h1m1 0h1m6 0h1m7 0h1m2 0h1m2 0h2m1 0h1m1 0h1m6 0h2m1 0h1m6 0h2m1 0h1m11 0h1m6 0h1m2 0h1m4 0h1m1 0h2m4 0h1m2 0h1m9 0h1m7 0h1m1 0h1m4 0h1m6 0h1m1 0h2m2 0h1m4 0h1m1 0h1m4 0h1m4 0h1m2 0h1m3 0h1m5 0h1m9 0h1m9 0h1m3 0h1m4 0h1m7 0h1m3 0h1m3 0h1m5 0h2m3 0h1m2 0h1m8 0h1m2 0h1m2 0h1m6 0h1m3 0h2m1 0h1m25 0h1m13 0h1M100 245h1m1 0h1m3 0h2m3 0h1m1 0h1m2 0h5m2 0h1m4 0h6m1 0h1m6 0h1m4 0h1m1 0h1m3 0h1m3 0h1m2 0h2m2 0h2m5 0h1m2 0h2m2 0h1m1 0h1m2 0h4m1 0h2m3 0h1m2 0h3m1 0h1m6 0h3m1 0h2m1 0h1m2 0h1m3 0h1m1 0h1m1 0h1m1 0h2m2 0h1m3 0h1m1 0h1m9 0h1m6 0h1m4 0h2m2 0h1m4 0h1m2 0h1m5 0h2m1 0h1m3 0h1m1 0h1m3 0h1m2 0h1m3 0h1m4 0h1m3 0h1m1 0h1m1 0h1m4 0h1m1 0h1m1 0h1m1 0h2m3 0h1m2 0h2m1 0h1m4 0h1m1 0h2m1 0h1m6 0h1m1 0h1m1 0h1m4 0h1m3 0h2m1 0h1m1 0h1m6 0h2m2 0h2m1 0h1m4 0h1m2 0h1m4 0h1m3 0h1m15 0h1m4 0h1m1 0h1m3 0h1m1 0h1m3 0h1m2 0h1m3 0h1m2 0h1m8 0h1m6 0h1m1 0h3m2 0h1m2 0h2m1 0h2m3 0h1m1 0h1m9 0h1m9 0h1m1 0h3m3 0h1m2 0h1m2 0h1m2 0h1m8 0h1m5 0h1m2 0h1m17 0h1m3 0h1m1 0h1m1 0h2m5 0h1m9 0h1m5 0h1m6 0h1m2 0h2m5 0h1m4 0h1m6 0h1m4 0h1m1 0h1m30 0h1m11 0h1M90 246h2m5 0h3m1 0h1m6 0h2m1 0h1m1 0h4m2 0h3m6 0h1m2 0h1m2 0h5m4 0h2m1 0h1m1 0h2m1 0h1m3 0h1m1 0h1m2 0h2m3 0h6m8 0h2m2 0h3m5 0h2m1 0h2m1 0h1m4 0h3m3 0h1m2 0h1m2 0h1m1 0h2m1 0h1m2 0h1m2 0h1m10 0h3m2 0h1m5 0h1m1 0h2m1 0h1m3 0h1m2 0h2m4 0h1m3 0h1m5 0h1m6 0h1m1 0h2m6 0h1m2 0h1m3 0h1m1 0h1m1 0h1m3 0h2m2 0h1m1 0h1m2 0h3m8 0h1m2 0h1m2 0h2m7 0h2m1 0h1m1 0h1m1 0h1m11 0h1m5 0h1m3 0h1m1 0h1m1 0h1m1 0h1m1 0h1m5 0h1m1 0h1m4 0h1m2 0h1m2 0h2m1 0h1m4 0h6m2 0h1m1 0h1m5 0h1m3 0h3m13 0h1m1 0h1m2 0h1m1 0h1m9 0h2m3 0h1m14 0h1m7 0h1m7 0h1m2 0h1m3 0h1m4 0h1m1 0h1m15 0h1m1 0h3m2 0h2m3 0h1m3 0h1m7 0h1m3 0h1m1 0h1m1 0h1m18 0h1m8 0h1m3 0h1m3 0h1m2 0h1m1 0h1m2 0h1m3 0h2m7 0h1m5 0h1m1 0h1m32 0h1m2 0h1M89 247h2m6 0h1m6 0h1m1 0h3m1 0h2m2 0h1m2 0h1m1 0h1m3 0h1m1 0h1m1 0h1m4 0h1m3 0h1m1 0h3m1 0h1m1 0h2m1 0h1m3 0h2m2 0h1m9 0h1m4 0h1m2 0h1m1 0h1m1 0h1m6 0h2m4 0h1m3 0h1m4 0h1m4 0h1m3 0h1m4 0h1m6 0h3m1 0h4m4 0h2m4 0h1m9 0h1m2 0h1m1 0h1m3 0h2m1 0h1m1 0h4m2 0h1m1 0h1m2 0h1m4 0h1m1 0h1m2 0h1m2 0h2m1 0h1m5 0h1m2 0h1m1 0h1m6 0h3m1 0h2m3 0h1m1 0h2m2 0h2m2 0h1m4 0h1m7 0h1m1 0h4m2 0h4m2 0h2m2 0h3m1 0h2m3 0h1m1 0h1m3 0h2m3 0h1m2 0h1m2 0h1m1 0h1m2 0h1m3 0h1m14 0h1m2 0h2m2 0h2m12 0h1m3 0h2m7 0h2m1 0h1m4 0h1m7 0h1m1 0h1m1 0h2m4 0h1m6 0h2m12 0h1m22 0h1m16 0h1m46 0h1m5 0h1m2 0h1m3 0h2m7 0h1m4 0h2m16 0h1m1 0h1m3 0h1m6 0h1M89 248h1m3 0h1m3 0h1m1 0h1m3 0h1m1 0h1m1 0h1m1 0h1m5 0h2m5 0h3m2 0h1m1 0h1m1 0h1m4 0h1m1 0h1m2 0h1m2 0h4m2 0h1m1 0h1m4 0h4m1 0h1m5 0h3m1 0h2m2 0h2m5 0h1m6 0h1m3 0h2m1 0h1m1 0h2m10 0h1m1 0h1m1 0h1m8 0h1m3 0h1m2 0h4m1 0h1m2 0h1m1 0h6m5 0h1m4 0h1m4 0h2m1 0h1m3 0h1m3 0h1m7 0h1m1 0h1m4 0h1m2 0h2m3 0h1m8 0h1m1 0h2m4 0h1m3 0h1m1 0h1m2 0h1m1 0h1m5 0h1m5 0h1m2 0h1m6 0h1m1 0h1m4 0h1m2 0h1m2 0h4m5 0h1m4 0h1m7 0h1m2 0h1m3 0h1m2 0h1m2 0h3m4 0h4m3 0h1m3 0h1m1 0h1m9 0h1m1 0h1m1 0h1m2 0h1m4 0h1m3 0h1m4 0h1m3 0h1m3 0h1m5 0h1m2 0h2m5 0h1m3 0h2m5 0h1m8 0h1m2 0h1m4 0h1m5 0h1m3 0h1m5 0h1m24 0h1m3 0h2m1 0h1m13 0h1m1 0h1m14 0h1m12 0h1m8 0h1m4 0h1m2 0h1m1 0h1m10 0h1m21 0h1M93 249h1m1 0h1m3 0h3m2 0h2m1 0h1m1 0h1m4 0h2m3 0h2m1 0h1m5 0h1m5 0h1m3 0h1m1 0h3m1 0h6m2 0h1m8 0h1m4 0h1m2 0h2m1 0h1m5 0h1m1 0h1m1 0h2m2 0h1m7 0h1m5 0h1m2 0h1m5 0h2m2 0h1m3 0h3m3 0h4m1 0h1m1 0h1m4 0h2m6 0h1m1 0h1m6 0h1m4 0h2m3 0h1m3 0h1m1 0h4m2 0h1m1 0h1m1 0h3m1 0h2m8 0h1m3 0h4m9 0h4m1 0h1m1 0h1m1 0h1m3 0h1m2 0h2m1 0h2m5 0h1m3 0h1m1 0h1m1 0h1m3 0h1m1 0h2m6 0h1m8 0h1m1 0h2m3 0h1m2 0h1m3 0h1m6 0h2m1 0h1m2 0h1m2 0h1m3 0h1m3 0h1m2 0h1m3 0h3m1 0h1m2 0h1m2 0h1m3 0h1m2 0h2m8 0h1m6 0h1m2 0h1m4 0h1m3 0h1m1 0h1m6 0h1m6 0h1m4 0h1m18 0h1m10 0h1m5 0h1m2 0h3m2 0h1m7 0h1m11 0h1m2 0h1m3 0h1m4 0h1m7 0h1m2 0h1m1 0h1m1 0h1m2 0h1m2 0h1m2 0h1m3 0h2m2 0h1m6 0h1m5 0h1m1 0h1m1 0h1m4 0h1m8 0h1m16 0h1M73 250h1m19 0h1m1 0h1m3 0h1m1 0h1m1 0h1m1 0h1m2 0h3m2 0h1m6 0h2m2 0h1m3 0h1m1 0h1m1 0h1m1 0h2m1 0h2m4 0h1m1 0h3m2 0h1m1 0h1m1 0h3m1 0h5m1 0h3m1 0h1m1 0h1m8 0h2m2 0h2m2 0h3m3 0h3m2 0h1m2 0h2m1 0h2m4 0h2m2 0h1m4 0h1m9 0h4m4 0h1m1 0h1m3 0h1m1 0h2m2 0h1m1 0h1m6 0h1m3 0h1m1 0h3m2 0h1m1 0h1m2 0h1m1 0h1m2 0h1m1 0h1m1 0h1m3 0h3m2 0h1m3 0h1m1 0h1m4 0h3m1 0h1m1 0h1m5 0h1m2 0h1m8 0h1m1 0h1m3 0h1m5 0h2m1 0h1m2 0h1m1 0h1m8 0h3m2 0h1m2 0h1m1 0h1m1 0h1m5 0h3m4 0h1m7 0h2m5 0h1m4 0h1m4 0h1m1 0h2m2 0h1m4 0h1m9 0h1m7 0h2m2 0h1m4 0h1m1 0h1m2 0h4m4 0h2m2 0h1m4 0h2m1 0h2m5 0h1m2 0h1m1 0h2m4 0h1m4 0h1m2 0h1m4 0h1m5 0h1m1 0h2m2 0h2m3 0h1m2 0h1m5 0h1m15 0h1m3 0h1m7 0h1m14 0h1m2 0h1m1 0h1m1 0h1m6 0h1m9 0h1m7 0h3m7 0h1m10 0h1M91 251h1m4 0h3m1 0h1m4 0h2m1 0h5m5 0h2m1 0h3m1 0h1m1 0h1m7 0h2m8 0h1m4 0h2m4 0h1m1 0h2m1 0h1m6 0h3m4 0h2m1 0h1m1 0h1m3 0h1m11 0h1m2 0h2m5 0h1m4 0h3m2 0h1m2 0h2m5 0h2m5 0h2m5 0h3m1 0h1m1 0h4m2 0h1m3 0h1m4 0h3m2 0h1m1 0h1m3 0h2m5 0h2m3 0h1m4 0h2m7 0h1m6 0h2m3 0h1m2 0h1m2 0h1m1 0h1m1 0h1m4 0h1m4 0h1m3 0h1m2 0h1m4 0h2m2 0h1m1 0h3m3 0h1m1 0h1m3 0h1m2 0h1m1 0h1m2 0h1m8 0h1m6 0h1m3 0h3m1 0h2m7 0h1m5 0h1m1 0h2m10 0h1m3 0h2m1 0h1m5 0h1m3 0h1m4 0h1m2 0h1m2 0h1m4 0h2m7 0h1m2 0h3m1 0h1m2 0h1m4 0h3m14 0h2m5 0h1m1 0h1m10 0h1m1 0h4m9 0h1m5 0h2m7 0h1m11 0h1m4 0h1m3 0h1m2 0h1m10 0h1m2 0h1m8 0h1m1 0h1m9 0h1m10 0h2m7 0h1m2 0h1M78 252h1m11 0h1m1 0h1m1 0h1m2 0h1m1 0h2m1 0h1m1 0h4m2 0h3m2 0h1m1 0h1m1 0h1m5 0h1m1 0h3m2 0h1m2 0h2m4 0h2m4 0h1m4 0h2m2 0h1m2 0h3m9 0h1m5 0h1m2 0h1m4 0h1m1 0h1m2 0h2m1 0h2m4 0h2m1 0h2m3 0h1m3 0h1m2 0h1m3 0h3m1 0h1m8 0h2m2 0h2m3 0h1m1 0h1m2 0h2m1 0h1m2 0h1m1 0h2m1 0h1m2 0h1m3 0h1m1 0h1m2 0h1m1 0h1m5 0h2m5 0h1m5 0h1m3 0h1m4 0h1m1 0h2m3 0h1m2 0h3m6 0h1m8 0h1m2 0h1m1 0h1m4 0h2m2 0h1m8 0h1m3 0h1m1 0h1m4 0h2m1 0h1m2 0h2m5 0h2m1 0h3m2 0h1m4 0h1m6 0h1m4 0h3m3 0h1m2 0h1m2 0h1m5 0h3m2 0h1m2 0h1m14 0h1m4 0h2m2 0h1m5 0h1m7 0h3m2 0h1m7 0h1m3 0h1m2 0h1m2 0h1m1 0h1m1 0h1m1 0h1m1 0h2m1 0h1m4 0h3m11 0h2m1 0h1m2 0h1m4 0h1m12 0h1m8 0h1m4 0h2m4 0h1m9 0h1m3 0h1m1 0h1m3 0h1m14 0h1m1 0h1m23 0h1M78 253h1m5 0h1m3 0h1m2 0h2m2 0h2m2 0h4m5 0h3m1 0h1m9 0h2m1 0h1m1 0h2m1 0h2m4 0h1m1 0h1m3 0h1m4 0h1m3 0h2m1 0h1m2 0h1m2 0h1m1 0h1m3 0h1m2 0h1m2 0h2m1 0h4m1 0h1m3 0h1m3 0h1m2 0h1m4 0h1m4 0h2m1 0h2m2 0h2m2 0h1m2 0h1m3 0h1m2 0h1m2 0h2m8 0h1m4 0h1m1 0h2m1 0h1m1 0h2m3 0h1m1 0h1m2 0h3m4 0h1m1 0h3m1 0h1m1 0h2m1 0h1m2 0h2m7 0h1m1 0h2m4 0h1m2 0h1m9 0h1m2 0h2m1 0h1m2 0h3m4 0h1m2 0h1m2 0h1m6 0h1m1 0h1m2 0h2m6 0h1m3 0h2m4 0h1m2 0h2m2 0h1m1 0h1m1 0h1m8 0h1m2 0h3m2 0h1m4 0h2m3 0h1m3 0h2m1 0h1m6 0h1m5 0h1m2 0h1m6 0h3m9 0h1m2 0h1m2 0h3m6 0h1m1 0h1m2 0h1m2 0h1m6 0h1m1 0h2m2 0h1m7 0h1m1 0h1m1 0h1m2 0h1m1 0h1m8 0h1m2 0h1m3 0h1m4 0h1m2 0h1m3 0h1m2 0h2m1 0h1m1 0h1m17 0h2m3 0h1m2 0h1m5 0h1m13 0h2m1 0h1m1 0h1M67 254h1m3 0h1m3 0h1m3 0h2m2 0h1m3 0h1m4 0h5m4 0h1m1 0h1m2 0h1m6 0h1m1 0h1m2 0h1m9 0h1m1 0h1m4 0h1m2 0h2m1 0h2m2 0h1m3 0h2m1 0h2m1 0h1m1 0h3m2 0h1m1 0h1m2 0h1m4 0h4m4 0h5m6 0h2m1 0h1m4 0h2m1 0h1m6 0h1m1 0h1m4 0h1m3 0h1m4 0h1m8 0h2m1 0h2m1 0h2m3 0h2m1 0h2m1 0h2m2 0h1m3 0h3m5 0h2m6 0h1m15 0h1m2 0h2m2 0h1m2 0h4m1 0h1m2 0h1m4 0h1m1 0h1m3 0h2m7 0h1m1 0h5m3 0h1m4 0h1m2 0h1m9 0h2m6 0h1m2 0h2m10 0h1m1 0h1m6 0h3m3 0h1m7 0h1m1 0h1m4 0h2m1 0h2m2 0h1m3 0h1m12 0h3m4 0h1m3 0h2m5 0h2m2 0h1m1 0h1m6 0h1m2 0h1m10 0h1m1 0h2m1 0h2m12 0h2m14 0h1m3 0h1m14 0h2m28 0h1m22 0h1m6 0h1m1 0h1m8 0h1M63 255h1m5 0h1m4 0h1m8 0h3m1 0h1m2 0h1m1 0h2m3 0h1m8 0h2m1 0h3m1 0h2m3 0h1m1 0h2m1 0h2m1 0h3m5 0h1m3 0h1m1 0h1m2 0h1m2 0h1m2 0h2m3 0h1m1 0h2m8 0h1m2 0h1m4 0h2m6 0h3m1 0h4m1 0h1m3 0h1m1 0h1m5 0h1m4 0h1m2 0h4m1 0h1m2 0h1m5 0h1m1 0h1m1 0h4m3 0h1m3 0h1m2 0h1m1 0h1m3 0h1m1 0h1m3 0h1m3 0h1m9 0h1m1 0h1m5 0h2m1 0h1m1 0h1m1 0h2m3 0h2m1 0h2m1 0h1m1 0h1m5 0h2m1 0h3m1 0h1m5 0h1m1 0h2m4 0h1m4 0h1m1 0h1m1 0h1m3 0h1m4 0h1m1 0h1m3 0h1m1 0h1m1 0h1m3 0h1m2 0h2m3 0h1m1 0h2m4 0h1m2 0h1m1 0h1m5 0h1m2 0h1m11 0h1m1 0h2m1 0h1m5 0h2m4 0h1m2 0h2m1 0h2m4 0h2m3 0h1m1 0h1m1 0h1m8 0h1m3 0h1m4 0h1m8 0h1m3 0h2m5 0h1m1 0h1m8 0h2m5 0h1m7 0h1m6 0h1m4 0h1m7 0h1m6 0h1m2 0h1m5 0h1m7 0h1m29 0h1m13 0h1m3 0h1m19 0h1M56 256h1m18 0h3m3 0h1m6 0h3m1 0h1m2 0h1m2 0h4m1 0h1m2 0h2m1 0h1m2 0h1m1 0h1m3 0h1m1 0h1m1 0h1m1 0h1m4 0h3m2 0h1m2 0h1m6 0h3m5 0h1m1 0h1m2 0h2m1 0h1m6 0h4m1 0h1m3 0h1m2 0h2m4 0h1m2 0h1m6 0h1m1 0h3m1 0h3m6 0h1m1 0h1m1 0h3m2 0h2m4 0h1m2 0h1m1 0h3m1 0h2m5 0h5m6 0h2m1 0h1m5 0h6m6 0h1m3 0h1m4 0h1m3 0h2m1 0h2m4 0h1m2 0h1m2 0h1m2 0h2m3 0h1m4 0h1m1 0h1m5 0h2m2 0h2m1 0h2m1 0h4m3 0h1m1 0h4m1 0h1m4 0h4m1 0h1m12 0h1m1 0h1m1 0h1m2 0h3m1 0h2m2 0h1m1 0h2m1 0h1m2 0h1m6 0h1m14 0h1m3 0h1m11 0h1m5 0h1m1 0h1m9 0h1m5 0h1m2 0h1m3 0h1m5 0h1m2 0h1m1 0h1m1 0h1m1 0h2m1 0h1m11 0h1m9 0h2m2 0h1m15 0h1m11 0h2m2 0h2m1 0h1m3 0h1m6 0h1m15 0h1m6 0h1M64 257h1m10 0h1m3 0h1m1 0h1m2 0h1m1 0h1m2 0h1m2 0h3m1 0h1m1 0h1m1 0h3m1 0h1m1 0h2m8 0h1m1 0h1m1 0h3m2 0h1m2 0h2m6 0h2m1 0h6m1 0h1m1 0h1m6 0h1m3 0h2m3 0h1m1 0h2m3 0h1m7 0h1m2 0h2m2 0h1m1 0h2m5 0h2m1 0h4m1 0h2m2 0h1m5 0h3m1 0h1m4 0h1m2 0h1m5 0h1m4 0h1m3 0h1m2 0h1m1 0h1m5 0h2m4 0h1m4 0h1m1 0h1m2 0h2m1 0h2m2 0h1m1 0h1m3 0h1m1 0h1m4 0h1m1 0h1m1 0h1m2 0h2m1 0h1m1 0h1m2 0h1m2 0h1m2 0h1m1 0h2m3 0h1m2 0h1m2 0h1m3 0h1m4 0h1m3 0h1m7 0h2m1 0h2m4 0h1m6 0h2m3 0h1m2 0h1m1 0h1m2 0h1m3 0h2m6 0h1m6 0h1m7 0h2m1 0h1m1 0h1m1 0h2m1 0h1m2 0h3m4 0h3m7 0h1m1 0h1m9 0h1m2 0h1m3 0h1m1 0h1m2 0h2m1 0h1m3 0h2m4 0h1m10 0h1m3 0h1m2 0h1m8 0h1m5 0h2m1 0h2m8 0h1m5 0h1m6 0h2m11 0h1m12 0h2m6 0h1m3 0h1m1 0h1m5 0h2m1 0h1m5 0h2M64 258h1m13 0h2m2 0h1m3 0h2m1 0h2m5 0h1m2 0h2m1 0h1m1 0h2m2 0h2m3 0h1m1 0h2m1 0h2m1 0h1m2 0h2m1 0h2m5 0h2m4 0h3m1 0h1m1 0h1m6 0h3m2 0h1m2 0h4m2 0h1m1 0h1m3 0h1m2 0h3m1 0h3m1 0h4m1 0h2m5 0h4m3 0h1m1 0h2m5 0h2m1 0h1m4 0h1m9 0h1m1 0h1m4 0h2m2 0h1m2 0h1m2 0h1m1 0h2m2 0h1m2 0h1m5 0h2m1 0h3m1 0h2m3 0h4m1 0h2m1 0h3m6 0h1m1 0h1m2 0h1m1 0h2m1 0h1m4 0h1m2 0h1m1 0h3m1 0h1m5 0h1m6 0h1m1 0h1m3 0h1m4 0h1m3 0h1m1 0h1m3 0h1m1 0h2m4 0h2m1 0h1m1 0h1m4 0h3m8 0h1m3 0h2m2 0h2m1 0h1m4 0h3m11 0h1m2 0h1m3 0h1m5 0h1m2 0h1m4 0h1m1 0h1m7 0h1m4 0h1m2 0h1m1 0h1m1 0h2m15 0h1m2 0h1m2 0h1m9 0h1m7 0h1m10 0h1m1 0h1m1 0h1m8 0h1m2 0h1m18 0h1m2 0h1m4 0h1m2 0h1m2 0h2m2 0h2m3 0h1m11 0h1M76 259h1m5 0h1m1 0h1m1 0h3m2 0h1m2 0h2m5 0h1m1 0h2m3 0h2m1 0h2m8 0h2m1 0h2m1 0h1m1 0h4m1 0h1m1 0h1m2 0h2m1 0h1m4 0h1m4 0h1m1 0h1m4 0h1m1 0h1m1 0h1m1 0h1m5 0h1m4 0h1m1 0h1m1 0h1m1 0h1m1 0h1m6 0h2m4 0h3m2 0h2m9 0h1m1 0h1m5 0h1m1 0h1m10 0h1m2 0h1m2 0h1m5 0h1m6 0h2m2 0h1m1 0h3m7 0h1m1 0h2m1 0h1m7 0h1m7 0h1m2 0h1m1 0h1m1 0h2m3 0h1m2 0h1m4 0h3m4 0h1m6 0h1m2 0h1m3 0h1m1 0h2m3 0h1m3 0h1m2 0h1m3 0h1m1 0h1m1 0h1m1 0h1m4 0h1m1 0h1m1 0h1m2 0h2m1 0h1m1 0h1m9 0h1m1 0h1m3 0h2m10 0h1m5 0h1m3 0h1m5 0h2m1 0h2m5 0h1m2 0h1m3 0h1m3 0h1m2 0h1m3 0h1m1 0h1m2 0h3m3 0h2m12 0h1m1 0h2m3 0h2m1 0h1m1 0h1m1 0h1m3 0h2m3 0h2m2 0h1m6 0h1m3 0h1m2 0h2m2 0h1m2 0h1m5 0h1m12 0h1m2 0h1m4 0h1m2 0h1m3 0h1m8 0h1m5 0h1m4 0h1m8 0h1M78 260h2m1 0h1m6 0h1m1 0h1m1 0h1m1 0h2m2 0h1m6 0h2m4 0h1m4 0h2m5 0h1m1 0h2m1 0h1m3 0h7m1 0h1m1 0h1m1 0h2m2 0h1m3 0h1m6 0h2m6 0h1m1 0h1m2 0h1m1 0h1m2 0h1m7 0h2m1 0h1m2 0h1m3 0h1m1 0h4m1 0h1m1 0h1m2 0h4m3 0h1m3 0h1m3 0h2m1 0h2m7 0h1m4 0h2m5 0h1m1 0h1m2 0h1m1 0h1m1 0h1m2 0h1m13 0h1m1 0h1m3 0h1m1 0h1m1 0h1m2 0h1m1 0h2m2 0h1m2 0h1m3 0h1m10 0h1m5 0h2m1 0h1m8 0h1m2 0h1m2 0h1m1 0h2m2 0h1m2 0h1m2 0h1m2 0h1m5 0h3m4 0h1m1 0h1m6 0h2m1 0h1m1 0h1m1 0h1m1 0h1m6 0h1m1 0h1m5 0h1m3 0h1m2 0h1m2 0h2m1 0h1m10 0h1m4 0h1m1 0h3m1 0h1m3 0h1m3 0h2m3 0h2m1 0h1m1 0h1m3 0h2m4 0h1m4 0h2m5 0h2m2 0h1m2 0h1m7 0h1m1 0h1m2 0h1m12 0h1m3 0h1m10 0h1m6 0h1m8 0h1m2 0h3m11 0h1m14 0h1m3 0h1M69 261h1m2 0h1m3 0h4m1 0h4m1 0h1m2 0h1m1 0h2m1 0h1m3 0h1m1 0h1m2 0h1m2 0h1m1 0h1m3 0h1m2 0h4m3 0h2m2 0h1m1 0h1m1 0h2m1 0h1m1 0h1m2 0h7m1 0h1m2 0h1m1 0h1m1 0h1m1 0h3m4 0h1m2 0h1m6 0h1m1 0h1m1 0h1m5 0h1m5 0h1m4 0h2m2 0h3m3 0h1m3 0h1m5 0h2m4 0h1m1 0h3m8 0h1m1 0h1m2 0h1m1 0h3m2 0h1m7 0h2m5 0h1m9 0h2m3 0h1m2 0h1m1 0h3m3 0h1m4 0h1m6 0h1m1 0h2m2 0h1m5 0h1m1 0h1m6 0h1m8 0h1m11 0h1m3 0h1m9 0h1m6 0h1m1 0h1m3 0h1m1 0h1m4 0h1m3 0h1m1 0h1m1 0h1m2 0h1m5 0h1m6 0h2m4 0h1m2 0h1m5 0h2m6 0h2m3 0h1m5 0h1m1 0h1m2 0h1m2 0h2m1 0h2m3 0h2m1 0h1m2 0h1m4 0h1m5 0h1m4 0h1m4 0h1m2 0h1m3 0h1m1 0h1m2 0h1m2 0h1m4 0h1m1 0h2m11 0h1m2 0h1m2 0h2m7 0h2m6 0h1m8 0h1M71 262h1m1 0h1m3 0h2m6 0h2m5 0h1m2 0h1m5 0h1m3 0h1m2 0h2m2 0h1m1 0h2m3 0h2m3 0h1m9 0h1m3 0h2m1 0h1m5 0h1m1 0h1m2 0h1m1 0h2m1 0h1m4 0h1m11 0h1m4 0h1m2 0h2m2 0h2m1 0h2m1 0h1m1 0h1m1 0h2m2 0h1m4 0h1m1 0h1m5 0h1m3 0h1m11 0h2m2 0h1m2 0h2m1 0h1m1 0h1m4 0h2m2 0h1m3 0h1m2 0h1m4 0h1m11 0h4m2 0h1m17 0h1m1 0h3m8 0h1m2 0h1m3 0h2m6 0h1m1 0h3m3 0h2m1 0h1m1 0h1m1 0h2m6 0h1m1 0h1m8 0h1m3 0h1m1 0h1m1 0h1m1 0h2m3 0h1m7 0h1m4 0h2m3 0h1m5 0h1m1 0h1m4 0h1m1 0h2m6 0h1m2 0h1m4 0h1m4 0h2m4 0h1m3 0h1m2 0h1m2 0h1m1 0h1m1 0h1m1 0h1m11 0h1m2 0h1m4 0h1m1 0h1m1 0h1m6 0h1m4 0h1m5 0h1m4 0h2m2 0h2m12 0h1m1 0h1m1 0h1m12 0h1m21 0h1M63 263h1m4 0h1m3 0h1m3 0h1m1 0h1m6 0h2m2 0h1m2 0h1m1 0h1m2 0h2m1 0h1m2 0h1m5 0h1m2 0h2m2 0h2m3 0h1m1 0h2m2 0h1m3 0h1m1 0h1m2 0h1m2 0h2m2 0h1m1 0h1m2 0h1m3 0h1m3 0h4m2 0h2m1 0h1m2 0h2m1 0h1m1 0h3m1 0h1m3 0h1m1 0h1m9 0h1m1 0h1m2 0h1m4 0h2m4 0h1m3 0h1m6 0h2m2 0h1m1 0h2m1 0h1m3 0h2m3 0h1m2 0h1m4 0h1m4 0h1m1 0h1m5 0h1m1 0h1m3 0h1m7 0h1m2 0h1m2 0h2m2 0h1m2 0h1m3 0h1m5 0h1m2 0h1m2 0h1m4 0h1m3 0h2m2 0h1m1 0h1m2 0h1m10 0h2m2 0h1m4 0h1m2 0h2m1 0h1m1 0h1m1 0h1m1 0h2m1 0h1m1 0h1m1 0h1m2 0h1m3 0h1m2 0h1m3 0h1m1 0h1m2 0h2m4 0h1m7 0h1m1 0h1m4 0h3m3 0h1m1 0h1m1 0h1m3 0h1m6 0h3m2 0h1m3 0h3m13 0h1m2 0h1m2 0h1m1 0h1m12 0h1m4 0h2m2 0h1m2 0h1m1 0h1m1 0h1m2 0h1m3 0h1m2 0h1m3 0h3m3 0h1m10 0h1m5 0h2m10 0h1m15 0h1M67 264h1m1 0h2m2 0h1m7 0h3m1 0h4m1 0h1m1 0h1m2 0h1m1 0h1m6 0h1m2 0h1m3 0h1m3 0h2m1 0h1m1 0h3m2 0h1m3 0h1m1 0h1m1 0h1m3 0h1m1 0h1m3 0h1m2 0h1m1 0h2m1 0h1m3 0h1m1 0h2m1 0h1m3 0h5m1 0h2m4 0h1m3 0h2m4 0h1m1 0h1m4 0h1m4 0h3m3 0h1m1 0h1m3 0h1m1 0h1m1 0h2m2 0h3m1 0h1m1 0h2m2 0h2m1 0h2m1 0h1m3 0h1m2 0h1m3 0h1m5 0h1m1 0h1m6 0h1m2 0h2m6 0h1m2 0h1m3 0h2m3 0h1m4 0h1m3 0h1m2 0h3m1 0h1m4 0h1m6 0h1m1 0h1m3 0h2m2 0h1m3 0h1m4 0h1m3 0h2m1 0h1m6 0h1m10 0h2m5 0h1m2 0h1m5 0h1m2 0h2m1 0h1m2 0h1m1 0h1m2 0h1m3 0h1m4 0h1m1 0h1m1 0h1m2 0h1m1 0h2m5 0h1m3 0h1m2 0h1m1 0h1m17 0h1m4 0h1m3 0h4m20 0h1m3 0h1m3 0h1m3 0h1m3 0h1m5 0h1m9 0h1m2 0h1m19 0h1m1 0h1M59 265h1m4 0h1m4 0h2m1 0h1m2 0h2m3 0h1m1 0h1m8 0h1m1 0h5m1 0h1m6 0h1m1 0h2m2 0h1m6 0h1m1 0h1m6 0h2m1 0h3m4 0h1m1 0h2m4 0h1m4 0h1m6 0h2m4 0h5m1 0h2m5 0h1m3 0h2m7 0h1m3 0h2m2 0h4m4 0h1m1 0h2m1 0h2m4 0h2m7 0h2m5 0h4m1 0h1m3 0h3m4 0h1m2 0h1m1 0h1m3 0h3m4 0h1m2 0h1m3 0h1m1 0h1m4 0h1m2 0h1m2 0h1m5 0h1m3 0h1m2 0h1m6 0h2m1 0h5m3 0h1m3 0h2m1 0h2m1 0h1m9 0h1m1 0h3m1 0h1m8 0h2m1 0h1m3 0h1m5 0h2m6 0h1m2 0h2m1 0h1m4 0h1m5 0h3m3 0h3m10 0h1m2 0h1m6 0h2m5 0h1m19 0h1m5 0h1m14 0h1m5 0h1m4 0h1m3 0h1m21 0h1m2 0h1m5 0h1m10 0h1M67 266h1m1 0h1m4 0h1m1 0h4m1 0h1m1 0h1m5 0h2m1 0h4m6 0h2m1 0h2m2 0h2m1 0h1m1 0h1m1 0h3m1 0h1m1 0h1m4 0h1m2 0h2m4 0h1m2 0h4m1 0h1m2 0h2m3 0h2m5 0h1m1 0h4m1 0h1m9 0h1m1 0h3m3 0h1m1 0h1m11 0h1m2 0h1m1 0h1m1 0h1m3 0h3m6 0h2m5 0h4m3 0h2m1 0h1m4 0h2m2 0h2m2 0h1m2 0h2m13 0h1m2 0h2m2 0h1m1 0h1m1 0h1m2 0h2m4 0h1m3 0h9m2 0h1m4 0h1m4 0h1m1 0h2m1 0h1m8 0h1m2 0h1m2 0h2m2 0h2m3 0h2m2 0h1m3 0h1m2 0h1m3 0h1m13 0h2m5 0h1m2 0h1m1 0h1m2 0h1m3 0h1m2 0h1m3 0h1m2 0h1m2 0h2m1 0h2m1 0h1m5 0h1m13 0h1m4 0h1m9 0h1m7 0h1m6 0h1m7 0h1m1 0h1m5 0h1m7 0h2m3 0h2m12 0h1m17 0h1M67 267h1m6 0h2m1 0h1m4 0h1m3 0h1m6 0h1m4 0h1m11 0h2m1 0h2m1 0h3m1 0h2m1 0h1m2 0h1m7 0h1m1 0h1m2 0h2m4 0h1m16 0h1m4 0h3m2 0h1m8 0h2m5 0h1m1 0h1m1 0h2m1 0h1m2 0h4m5 0h5m1 0h1m1 0h1m1 0h1m1 0h2m3 0h1m1 0h1m1 0h2m5 0h2m3 0h1m6 0h1m1 0h1m4 0h1m2 0h2m1 0h4m1 0h3m2 0h2m3 0h2m1 0h1m8 0h1m9 0h1m1 0h1m3 0h1m6 0h1m4 0h1m5 0h1m5 0h3m4 0h1m4 0h1m2 0h2m1 0h1m2 0h2m2 0h1m1 0h4m1 0h1m1 0h1m4 0h1m3 0h1m1 0h1m1 0h1m2 0h1m2 0h2m1 0h1m3 0h1m5 0h1m1 0h1m5 0h1m2 0h2m3 0h1m7 0h6m2 0h2m5 0h1m2 0h2m2 0h2m5 0h1m2 0h1m1 0h2m3 0h2m9 0h2m15 0h1m5 0h1m6 0h1m1 0h1m6 0h1M55 268h1m7 0h1m4 0h1m7 0h5m7 0h1m3 0h1m1 0h4m1 0h2m3 0h4m1 0h2m1 0h1m7 0h1m1 0h2m6 0h2m1 0h1m2 0h2m1 0h1m1 0h1m1 0h1m4 0h1m5 0h1m1 0h1m4 0h2m1 0h1m3 0h3m4 0h2m3 0h1m10 0h3m3 0h1m1 0h1m2 0h1m1 0h2m5 0h3m2 0h3m4 0h1m11 0h1m4 0h2m2 0h1m3 0h3m1 0h2m1 0h1m2 0h3m2 0h2m7 0h1m5 0h2m1 0h2m5 0h1m2 0h1m3 0h1m2 0h1m1 0h2m6 0h1m1 0h1m4 0h1m9 0h2m9 0h1m4 0h1m1 0h1m2 0h4m3 0h1m1 0h1m5 0h1m1 0h2m1 0h1m1 0h1m1 0h1m8 0h2m1 0h2m4 0h3m7 0h1m2 0h1m3 0h1m4 0h1m7 0h2m2 0h3m8 0h3m5 0h1m2 0h2m8 0h1m11 0h2m3 0h2m11 0h1m1 0h1M60 269h1m3 0h1m3 0h1m2 0h1m3 0h1m1 0h1m3 0h1m3 0h2m1 0h1m2 0h2m1 0h1m1 0h3m1 0h4m1 0h1m1 0h4m1 0h3m1 0h1m1 0h3m2 0h2m1 0h1m3 0h2m1 0h1m1 0h1m15 0h1m1 0h2m1 0h4m2 0h1m3 0h1m4 0h1m2 0h2m1 0h3m2 0h1m2 0h1m1 0h1m2 0h2m1 0h1m6 0h4m5 0h1m7 0h1m3 0h1m3 0h2m7 0h3m6 0h3m4 0h2m9 0h2m3 0h2m1 0h1m2 0h1m1 0h1m1 0h2m7 0h1m2 0h1m5 0h1m7 0h2m1 0h2m3 0h1m6 0h3m3 0h1m2 0h1m8 0h2m1 0h1m4 0h1m1 0h1m6 0h2m2 0h3m6 0h2m1 0h1m2 0h1m7 0h1m1 0h1m6 0h1m4 0h2m1 0h2m4 0h2m2 0h3m10 0h1m10 0h1m4 0h1m2 0h2m1 0h2m8 0h1m1 0h1m10 0h2m5 0h2m2 0h1m8 0h2m2 0h2m27 0h1M60 270h2m2 0h1m2 0h1m1 0h4m3 0h2m3 0h1m9 0h2m1 0h2m8 0h4m5 0h1m2 0h2m3 0h1m3 0h1m1 0h2m4 0h1m3 0h1m2 0h1m5 0h2m1 0h2m2 0h5m5 0h1m6 0h1m2 0h3m6 0h1m1 0h1m4 0h2m2 0h1m1 0h2m1 0h1m2 0h1m2 0h1m4 0h2m1 0h2m1 0h1m4 0h1m6 0h1m2 0h1m1 0h1m1 0h1m2 0h1m3 0h1m1 0h5m1 0h2m1 0h2m4 0h3m8 0h1m1 0h1m4 0h1m4 0h1m3 0h1m1 0h1m2 0h1m2 0h1m2 0h1m4 0h7m1 0h2m2 0h1m5 0h1m1 0h1m2 0h1m4 0h1m11 0h2m2 0h1m8 0h1m7 0h1m1 0h2m2 0h1m2 0h1m9 0h1m3 0h1m2 0h2m1 0h2m1 0h1m1 0h1m4 0h1m1 0h1m19 0h1m12 0h1m3 0h2m1 0h1m13 0h1m8 0h1m7 0h1m11 0h1M67 271h1m3 0h2m4 0h1m5 0h1m1 0h1m1 0h1m3 0h1m5 0h2m1 0h1m4 0h1m2 0h1m1 0h1m6 0h1m6 0h1m3 0h1m1 0h2m1 0h1m1 0h1m2 0h2m1 0h1m1 0h3m3 0h1m1 0h1m1 0h5m2 0h2m2 0h2m4 0h2m4 0h3m1 0h1m3 0h1m8 0h1m5 0h1m4 0h1m2 0h1m4 0h2m1 0h2m2 0h1m2 0h1m4 0h1m2 0h2m5 0h1m4 0h1m6 0h1m7 0h2m4 0h1m2 0h1m19 0h1m1 0h2m2 0h1m4 0h1m8 0h1m1 0h2m4 0h1m5 0h2m1 0h2m6 0h1m1 0h1m6 0h1m2 0h1m6 0h4m2 0h1m1 0h1m2 0h1m2 0h1m4 0h1m3 0h1m1 0h3m1 0h1m7 0h1m3 0h1m4 0h1m2 0h1m1 0h1m13 0h1m16 0h2m14 0h1m1 0h1m1 0h1m7 0h1m10 0h1m6 0h1m2 0h1M55 272h2m5 0h1m1 0h2m1 0h1m1 0h1m2 0h1m2 0h1m1 0h2m1 0h1m2 0h1m3 0h4m1 0h2m1 0h2m3 0h2m3 0h2m10 0h1m1 0h1m1 0h1m4 0h1m2 0h1m1 0h1m2 0h1m2 0h1m2 0h1m1 0h1m4 0h2m1 0h1m4 0h3m1 0h2m2 0h1m5 0h1m1 0h1m2 0h2m1 0h2m1 0h2m2 0h1m4 0h1m5 0h1m1 0h1m1 0h2m11 0h1m3 0h1m2 0h2m6 0h2m1 0h1m3 0h1m4 0h2m1 0h1m1 0h1m1 0h2m2 0h1m1 0h4m4 0h1m1 0h1m1 0h1m1 0h1m2 0h4m1 0h1m9 0h1m1 0h2m1 0h1m4 0h1m1 0h2m8 0h1m5 0h2m1 0h1m1 0h2m4 0h1m2 0h1m7 0h2m3 0h1m5 0h1m3 0h1m6 0h3m1 0h2m2 0h2m2 0h1m3 0h1m2 0h1m5 0h1m1 0h1m9 0h1m4 0h1m1 0h3m15 0h1m1 0h1m1 0h1m9 0h1m2 0h1m2 0h2m4 0h1m1 0h1m14 0h1m2 0h2m4 0h1M56 273h1m2 0h3m2 0h2m2 0h1m2 0h1m1 0h1m2 0h1m7 0h1m3 0h2m1 0h2m1 0h1m4 0h1m3 0h1m2 0h1m2 0h1m2 0h1m1 0h1m1 0h1m8 0h1m7 0h1m1 0h2m2 0h1m2 0h1m1 0h1m4 0h1m6 0h1m2 0h3m2 0h1m7 0h1m5 0h3m1 0h1m5 0h1m2 0h1m1 0h1m1 0h2m3 0h1m1 0h1m10 0h2m7 0h1m2 0h1m3 0h1m5 0h1m9 0h1m1 0h1m3 0h1m2 0h1m1 0h1m2 0h1m4 0h2m1 0h1m1 0h2m1 0h1m2 0h1m1 0h1m5 0h1m1 0h1m7 0h1m15 0h1m4 0h3m4 0h1m1 0h2m5 0h1m6 0h1m1 0h1m1 0h1m7 0h1m3 0h1m4 0h3m1 0h1m19 0h1m6 0h1m11 0h2m1 0h1m9 0h2m6 0h2m1 0h2m5 0h2m4 0h1m4 0h1m3 0h1m23 0h1M54 274h1m8 0h1m3 0h1m1 0h1m6 0h2m1 0h1m1 0h1m2 0h2m1 0h1m2 0h1m2 0h1m2 0h1m2 0h1m1 0h1m5 0h1m4 0h1m3 0h2m3 0h1m2 0h2m3 0h2m3 0h3m4 0h2m1 0h2m3 0h2m1 0h2m1 0h1m2 0h1m1 0h1m1 0h1m4 0h1m10 0h1m1 0h1m2 0h1m1 0h1m1 0h1m1 0h1m6 0h1m1 0h4m1 0h2m3 0h1m5 0h3m3 0h1m4 0h1m3 0h2m5 0h1m1 0h3m1 0h2m8 0h1m5 0h1m3 0h1m1 0h1m3 0h3m1 0h1m1 0h1m3 0h3m1 0h2m2 0h2m7 0h2m5 0h4m4 0h2m5 0h1m2 0h1m3 0h1m1 0h1m3 0h2m1 0h1m2 0h2m1 0h4m6 0h2m6 0h2m2 0h1m2 0h1m1 0h2m11 0h2m1 0h1m2 0h1m1 0h2m1 0h1m1 0h1m1 0h1m2 0h1m5 0h3m1 0h1m4 0h1m8 0h1m2 0h1m2 0h1m1 0h1m12 0h1m6 0h1m3 0h1M58 275h2m2 0h1m3 0h2m2 0h1m1 0h1m2 0h2m3 0h1m1 0h1m1 0h2m2 0h1m1 0h2m4 0h3m3 0h2m5 0h2m2 0h2m6 0h1m1 0h1m1 0h1m10 0h2m1 0h1m3 0h1m5 0h1m1 0h2m2 0h2m3 0h1m1 0h1m1 0h1m1 0h1m2 0h2m2 0h1m1 0h1m5 0h1m1 0h1m3 0h1m2 0h1m1 0h1m1 0h1m2 0h2m3 0h1m2 0h3m3 0h1m2 0h1m1 0h2m1 0h1m11 0h1m3 0h1m3 0h1m2 0h1m3 0h2m3 0h1m6 0h2m5 0h1m3 0h4m1 0h1m4 0h1m1 0h2m1 0h1m3 0h2m3 0h1m1 0h1m4 0h1m2 0h1m6 0h3m7 0h1m1 0h1m5 0h1m1 0h1m4 0h1m2 0h4m2 0h4m7 0h1m6 0h1m4 0h1m3 0h1m1 0h1m1 0h2m2 0h1m5 0h1m2 0h1m2 0h3m1 0h1m2 0h1m12 0h1m1 0h1m4 0h1m1 0h1m7 0h1m8 0h1m2 0h1m4 0h1M57 276h5m3 0h1m3 0h1m5 0h3m2 0h3m1 0h2m6 0h13m2 0h1m1 0h4m1 0h1m1 0h2m2 0h2m2 0h4m1 0h4m2 0h1m1 0h1m1 0h1m1 0h1m1 0h2m3 0h1m1 0h1m1 0h1m1 0h1m2 0h2m1 0h3m1 0h1m3 0h3m7 0h1m1 0h2m1 0h1m2 0h1m1 0h1m6 0h1m4 0h1m1 0h4m6 0h1m4 0h1m4 0h1m12 0h1m1 0h1m5 0h1m1 0h1m4 0h2m1 0h2m1 0h1m5 0h3m4 0h1m2 0h1m1 0h1m1 0h4m13 0h1m6 0h1m1 0h1m1 0h1m3 0h1m1 0h3m7 0h1m1 0h1m1 0h1m6 0h1m1 0h1m4 0h1m1 0h1m2 0h1m4 0h2m3 0h2m2 0h1m4 0h2m7 0h1m3 0h1m3 0h1m5 0h1m5 0h1m14 0h1m15 0h1m2 0h1m5 0h1m10 0h1m10 0h1M52 277h1m1 0h2m4 0h7m4 0h2m4 0h1m12 0h1m3 0h1m2 0h1m4 0h1m2 0h2m2 0h2m1 0h6m1 0h4m3 0h1m1 0h1m2 0h3m1 0h3m3 0h1m8 0h6m2 0h2m2 0h1m1 0h1m1 0h1m1 0h2m2 0h1m1 0h1m1 0h4m3 0h1m4 0h1m3 0h1m3 0h1m3 0h1m4 0h1m3 0h1m2 0h1m1 0h5m1 0h3m6 0h1m3 0h1m2 0h2m1 0h2m3 0h1m1 0h2m2 0h1m4 0h2m2 0h1m2 0h1m3 0h1m4 0h1m3 0h1m2 0h1m2 0h2m3 0h1m5 0h2m3 0h2m2 0h2m1 0h1m4 0h1m3 0h1m2 0h1m10 0h1m1 0h1m5 0h1m2 0h1m3 0h2m1 0h1m2 0h2m1 0h1m9 0h2m1 0h2m1 0h2m4 0h1m18 0h2m1 0h1m7 0h1m7 0h1m1 0h1m12 0h1m5 0h1m1 0h1m17 0h1M55 278h1m8 0h2m4 0h1m3 0h2m1 0h3m3 0h1m2 0h1m2 0h2m1 0h2m1 0h3m2 0h1m2 0h2m4 0h1m1 0h4m1 0h1m1 0h1m2 0h1m3 0h2m4 0h1m1 0h1m3 0h1m1 0h1m5 0h1m3 0h1m1 0h1m5 0h1m3 0h1m1 0h3m2 0h1m2 0h1m1 0h3m1 0h1m2 0h1m1 0h1m5 0h5m1 0h3m1 0h1m3 0h2m1 0h1m5 0h1m1 0h1m1 0h2m2 0h1m7 0h2m4 0h2m7 0h1m1 0h2m4 0h1m4 0h1m4 0h1m2 0h3m3 0h1m3 0h1m3 0h2m4 0h1m7 0h1m8 0h2m7 0h2m2 0h2m1 0h2m5 0h1m2 0h1m1 0h1m1 0h1m6 0h1m1 0h1m2 0h1m6 0h1m1 0h1m1 0h2m4 0h1m4 0h1m3 0h1m1 0h2m12 0h2m1 0h1m3 0h1m13 0h1m9 0h2M53 279h1m3 0h2m2 0h1m2 0h2m2 0h4m1 0h1m2 0h4m2 0h1m1 0h2m1 0h2m2 0h1m5 0h3m2 0h2m1 0h3m1 0h1m1 0h2m2 0h1m2 0h2m5 0h1m1 0h1m3 0h1m5 0h1m3 0h1m2 0h1m1 0h1m5 0h2m1 0h3m4 0h1m1 0h1m2 0h2m1 0h2m1 0h2m2 0h2m3 0h1m1 0h2m1 0h1m1 0h1m1 0h2m1 0h1m2 0h1m1 0h1m2 0h1m2 0h1m1 0h1m8 0h2m3 0h1m5 0h1m2 0h2m1 0h1m11 0h2m4 0h4m4 0h2m1 0h1m16 0h2m4 0h1m1 0h1m9 0h1m1 0h1m1 0h1m6 0h1m3 0h3m2 0h2m2 0h2m2 0h1m3 0h1m1 0h2m1 0h1m1 0h2m3 0h1m8 0h1m8 0h1m1 0h2m3 0h1m1 0h1m5 0h2m2 0h2m1 0h1m4 0h1m1 0h1m3 0h1m4 0h1m6 0h1m2 0h1m3 0h1m12 0h1M53 280h4m1 0h1m4 0h1m1 0h2m2 0h2m1 0h1m1 0h1m5 0h1m1 0h1m2 0h4m1 0h1m3 0h1m3 0h2m2 0h1m1 0h1m1 0h2m3 0h2m1 0h1m4 0h1m4 0h1m1 0h10m2 0h1m9 0h1m1 0h1m4 0h2m6 0h1m1 0h1m1 0h1m6 0h4m1 0h1m2 0h2m4 0h1m9 0h1m3 0h2m7 0h1m1 0h2m4 0h1m2 0h1m2 0h2m1 0h1m4 0h1m1 0h1m1 0h1m1 0h1m3 0h1m1 0h1m5 0h2m5 0h2m4 0h2m8 0h1m6 0h2m3 0h1m12 0h1m3 0h1m2 0h1m2 0h1m2 0h1m2 0h2m1 0h2m2 0h1m3 0h2m3 0h2m3 0h2m1 0h1m2 0h1m1 0h1m2 0h1m1 0h1m3 0h2m6 0h1m5 0h1m1 0h1m1 0h1m3 0h1m8 0h1m9 0h1M52 281h2m1 0h2m7 0h1m1 0h1m1 0h2m4 0h3m1 0h1m1 0h3m3 0h1m4 0h2m2 0h2m1 0h2m1 0h2m2 0h7m2 0h2m2 0h8m2 0h1m1 0h3m6 0h2m2 0h1m1 0h2m3 0h1m1 0h1m2 0h1m1 0h1m6 0h1m1 0h1m1 0h1m12 0h2m3 0h1m1 0h1m3 0h5m5 0h1m1 0h1m3 0h1m2 0h2m3 0h1m1 0h2m3 0h2m3 0h1m3 0h1m7 0h1m3 0h1m6 0h1m1 0h1m2 0h3m7 0h1m2 0h1m1 0h1m1 0h1m1 0h1m1 0h3m1 0h2m1 0h1m3 0h1m1 0h1m2 0h1m1 0h1m2 0h1m2 0h1m1 0h1m1 0h1m11 0h1m1 0h2m3 0h4m9 0h1m4 0h1m3 0h1m4 0h3m5 0h1m4 0h1m5 0h2m6 0h1m6 0h1m8 0h1m11 0h2M53 282h3m6 0h1m2 0h1m2 0h1m4 0h1m1 0h1m8 0h1m1 0h3m1 0h1m1 0h1m1 0h1m1 0h2m1 0h4m1 0h2m3 0h2m1 0h1m1 0h1m3 0h2m1 0h5m1 0h4m1 0h2m5 0h1m1 0h2m3 0h2m7 0h1m4 0h3m1 0h1m10 0h1m4 0h1m9 0h5m1 0h2m4 0h1m3 0h2m4 0h1m1 0h1m7 0h1m1 0h1m4 0h1m3 0h1m4 0h1m4 0h1m1 0h1m2 0h2m4 0h1m5 0h2m4 0h1m1 0h2m1 0h3m2 0h1m8 0h1m1 0h1m3 0h1m2 0h3m1 0h2m8 0h5m4 0h2m2 0h2m3 0h1m6 0h1m5 0h1m5 0h1m12 0h1m4 0h1m4 0h1m18 0h1m1 0h1M54 283h2m1 0h2m1 0h1m4 0h4m3 0h1m1 0h3m8 0h1m7 0h2m4 0h5m2 0h1m4 0h1m2 0h1m1 0h2m1 0h2m2 0h4m5 0h2m2 0h3m5 0h5m4 0h1m2 0h2m3 0h1m6 0h2m4 0h2m3 0h1m1 0h1m1 0h1m2 0h1m2 0h2m3 0h3m4 0h1m1 0h2m4 0h1m10 0h2m2 0h1m2 0h2m5 0h1m1 0h1m2 0h1m1 0h2m2 0h1m5 0h1m1 0h2m2 0h3m7 0h1m2 0h2m1 0h4m2 0h1m1 0h2m2 0h1m1 0h2m2 0h1m8 0h2m7 0h2m2 0h1m3 0h2m3 0h1m3 0h2m2 0h1m1 0h1m4 0h2m1 0h1m3 0h1m2 0h1m1 0h2m7 0h1m6 0h1m5 0h1m5 0h1m26 0h1M53 284h4m5 0h4m1 0h2m1 0h2m1 0h1m2 0h1m1 0h1m1 0h1m1 0h2m1 0h1m2 0h2m1 0h1m3 0h1m1 0h2m1 0h1m3 0h1m1 0h3m9 0h1m6 0h2m3 0h1m2 0h1m1 0h1m5 0h1m1 0h1m2 0h2m1 0h5m5 0h1m3 0h2m3 0h1m3 0h2m4 0h1m1 0h4m1 0h3m2 0h1m1 0h1m2 0h1m2 0h1m1 0h1m5 0h1m5 0h2m2 0h1m1 0h1m3 0h2m3 0h2m1 0h1m1 0h3m1 0h1m1 0h1m2 0h2m1 0h1m1 0h1m6 0h4m4 0h1m1 0h1m4 0h1m3 0h1m3 0h2m2 0h1m3 0h1m2 0h1m2 0h1m4 0h2m12 0h1m4 0h1m2 0h1m1 0h1m3 0h1m2 0h4m2 0h2m3 0h1m1 0h2m3 0h1m3 0h1m2 0h1m2 0h1m9 0h1m1 0h1m11 0h1M51 285h1m1 0h1m1 0h2m2 0h1m4 0h1m2 0h2m2 0h2m1 0h3m1 0h1m4 0h1m6 0h2m1 0h1m4 0h2m2 0h2m3 0h1m1 0h1m3 0h1m7 0h1m2 0h1m2 0h1m3 0h2m7 0h3m2 0h1m1 0h1m5 0h1m2 0h1m1 0h1m1 0h1m2 0h1m7 0h1m2 0h2m1 0h2m1 0h2m3 0h1m3 0h2m2 0h1m1 0h1m2 0h1m1 0h2m1 0h1m1 0h2m2 0h1m2 0h1m2 0h1m1 0h2m4 0h1m1 0h1m7 0h1m1 0h1m3 0h4m5 0h1m3 0h1m2 0h1m8 0h1m2 0h1m1 0h1m14 0h1m4 0h1m4 0h1m3 0h1m1 0h2m4 0h1m1 0h1m9 0h1m5 0h1m2 0h1m8 0h1m2 0h1m8 0h2m14 0h1M51 286h2m1 0h1m2 0h4m6 0h1m4 0h2m4 0h1m3 0h2m2 0h3m1 0h1m1 0h1m2 0h2m2 0h1m3 0h2m4 0h4m3 0h1m1 0h1m1 0h2m1 0h2m1 0h1m4 0h3m1 0h2m5 0h2m5 0h2m3 0h1m1 0h1m1 0h2m1 0h2m5 0h2m1 0h4m10 0h1m1 0h4m3 0h1m2 0h1m2 0h2m8 0h1m7 0h4m3 0h4m2 0h1m1 0h1m1 0h2m6 0h1m5 0h1m4 0h1m1 0h3m1 0h1m2 0h1m3 0h2m1 0h1m1 0h1m3 0h2m4 0h1m3 0h1m5 0h2m18 0h1m3 0h1m5 0h1m3 0h1m2 0h1m4 0h1m4 0h1m1 0h1m6 0h1m1 0h1m2 0h1m8 0h1m8 0h1M54 287h1m2 0h1m5 0h3m3 0h2m1 0h3m2 0h2m1 0h2m3 0h1m3 0h1m1 0h10m3 0h2m1 0h1m1 0h1m3 0h1m1 0h2m1 0h3m1 0h2m2 0h4m6 0h1m3 0h2m2 0h2m1 0h1m4 0h1m2 0h4m3 0h1m3 0h2m5 0h2m3 0h4m1 0h1m5 0h3m3 0h3m5 0h4m4 0h1m4 0h1m2 0h1m5 0h2m1 0h3m4 0h1m1 0h1m1 0h1m3 0h2m1 0h1m5 0h1m1 0h1m1 0h1m1 0h1m1 0h4m1 0h1m1 0h1m4 0h1m2 0h1m2 0h1m5 0h1m3 0h3m2 0h1m3 0h1m3 0h1m1 0h1m5 0h1m9 0h1m11 0h1m7 0h1m2 0h1m3 0h1m3 0h1M51 288h1m5 0h4m1 0h1m2 0h3m2 0h2m1 0h2m2 0h1m1 0h1m4 0h3m3 0h2m1 0h2m5 0h1m4 0h2m2 0h1m3 0h1m2 0h1m3 0h1m3 0h2m4 0h1m1 0h1m1 0h1m9 0h1m2 0h1m1 0h3m6 0h5m2 0h1m2 0h1m8 0h5m6 0h6m2 0h1m4 0h1m1 0h2m1 0h1m3 0h5m1 0h1m3 0h2m3 0h1m2 0h1m5 0h1m3 0h1m3 0h1m1 0h1m1 0h1m1 0h2m11 0h1m6 0h1m2 0h1m2 0h1m2 0h2m1 0h3m5 0h1m3 0h1m7 0h1m10 0h1m1 0h1m3 0h1m1 0h3m1 0h3m1 0h1m3 0h1m6 0h1m1 0h1m3 0h1m2 0h2M53 289h2m2 0h1m2 0h1m5 0h2m1 0h1m1 0h1m1 0h1m1 0h4m2 0h1m1 0h2m2 0h1m2 0h1m7 0h7m1 0h1m1 0h1m2 0h1m1 0h1m3 0h3m1 0h1m10 0h3m3 0h1m1 0h1m5 0h2m2 0h1m2 0h1m1 0h1m3 0h2m1 0h2m3 0h1m6 0h1m2 0h1m1 0h4m1 0h2m1 0h1m4 0h1m1 0h1m1 0h2m2 0h1m1 0h1m1 0h2m2 0h1m10 0h1m4 0h4m2 0h1m3 0h2m2 0h2m1 0h1m2 0h1m4 0h2m2 0h1m5 0h1m5 0h1m1 0h1m1 0h1m6 0h2m6 0h2m1 0h1m7 0h1m1 0h2m2 0h1m11 0h1m8 0h1m4 0h1m3 0h1m12 0h1M51 290h3m4 0h1m2 0h2m5 0h2m2 0h1m1 0h1m6 0h1m1 0h1m5 0h1m2 0h2m2 0h2m2 0h1m5 0h2m2 0h2m1 0h3m1 0h1m1 0h2m5 0h2m3 0h6m5 0h3m1 0h1m1 0h2m2 0h1m2 0h1m3 0h1m4 0h1m3 0h1m5 0h2m1 0h1m1 0h1m1 0h1m2 0h1m1 0h1m1 0h1m1 0h1m4 0h4m2 0h1m2 0h1m13 0h1m1 0h2m8 0h2m1 0h2m2 0h1m1 0h1m4 0h1m1 0h1m5 0h1m5 0h1m2 0h2m1 0h1m3 0h1m1 0h1m1 0h2m2 0h2m3 0h1m5 0h1m6 0h2m3 0h1m1 0h1m5 0h2m6 0h1m30 0h1M50 291h1m3 0h2m4 0h1m3 0h1m1 0h1m2 0h2m1 0h5m2 0h1m1 0h4m5 0h1m2 0h1m3 0h2m1 0h2m2 0h1m2 0h3m1 0h2m1 0h1m1 0h1m3 0h2m3 0h4m1 0h2m3 0h1m5 0h1m1 0h3m2 0h1m2 0h5m2 0h1m3 0h2m3 0h1m2 0h3m4 0h1m6 0h1m1 0h4m2 0h2m1 0h1m2 0h1m1 0h2m7 0h1m2 0h2m1 0h1m1 0h1m4 0h2m6 0h1m1 0h1m1 0h1m4 0h1m1 0h1m2 0h2m2 0h2m3 0h2m3 0h1m1 0h1m4 0h2m2 0h3m4 0h2m7 0h1m3 0h1m20 0h1m1 0h1m17 0h1m6 0h1M51 292h2m1 0h1m4 0h1m1 0h2m2 0h2m1 0h3m5 0h1m3 0h1m2 0h1m2 0h2m1 0h2m1 0h1m2 0h1m3 0h1m2 0h2m2 0h2m3 0h1m1 0h1m3 0h1m1 0h1m2 0h2m2 0h1m1 0h3m3 0h1m5 0h1m1 0h1m3 0h1m1 0h1m3 0h1m2 0h2m7 0h1m1 0h1m2 0h2m1 0h2m2 0h1m1 0h2m1 0h3m1 0h1m1 0h1m4 0h2m5 0h2m9 0h1m1 0h3m1 0h3m2 0h2m2 0h1m3 0h2m3 0h2m2 0h1m11 0h2m1 0h1m2 0h2m1 0h1m2 0h1m11 0h1m4 0h2m8 0h2m4 0h1m1 0h1m6 0h1m5 0h1m10 0h2m8 0h1M51 293h5m2 0h3m2 0h2m1 0h2m2 0h1m2 0h2m1 0h4m2 0h2m2 0h1m1 0h2m2 0h1m2 0h2m2 0h1m2 0h2m5 0h2m1 0h1m2 0h3m12 0h2m1 0h1m1 0h1m1 0h1m2 0h1m2 0h1m3 0h3m1 0h2m4 0h2m1 0h2m5 0h1m1 0h3m1 0h3m1 0h3m3 0h1m4 0h2m4 0h2m5 0h1m2 0h2m1 0h3m1 0h1m6 0h1m1 0h3m1 0h1m2 0h1m3 0h2m1 0h1m2 0h1m6 0h1m1 0h1m7 0h3m1 0h2m2 0h1m1 0h1m5 0h1m5 0h1m1 0h1m2 0h2m3 0h1m8 0h1m7 0h1m3 0h1m10 0h1m4 0h1m6 0h1M57 294h1m1 0h4m1 0h2m1 0h1m3 0h1m2 0h1m3 0h1m5 0h1m8 0h4m1 0h2m4 0h1m1 0h1m1 0h1m3 0h3m4 0h1m2 0h1m1 0h2m1 0h3m2 0h1m1 0h2m1 0h1m2 0h2m1 0h1m8 0h1m1 0h1m9 0h1m2 0h1m5 0h2m1 0h5m3 0h1m1 0h1m1 0h1m2 0h2m1 0h1m4 0h1m4 0h1m2 0h1m4 0h1m3 0h1m5 0h3m1 0h2m3 0h1m1 0h1m12 0h1m2 0h1m2 0h1m8 0h2m3 0h1m4 0h1m3 0h1m1 0h2m5 0h1m11 0h1m5 0h1m5 0h1M50 295h1m1 0h4m2 0h1m1 0h1m1 0h1m3 0h2m1 0h1m3 0h1m3 0h2m5 0h1m1 0h1m2 0h2m4 0h3m2 0h5m2 0h1m1 0h1m3 0h2m1 0h1m3 0h2m2 0h2m1 0h2m1 0h2m1 0h3m5 0h3m2 0h1m1 0h1m1 0h1m1 0h2m3 0h5m1 0h1m3 0h4m4 0h1m1 0h1m2 0h1m4 0h1m2 0h1m1 0h1m3 0h1m1 0h2m1 0h2m2 0h2m1 0h2m2 0h3m4 0h1m2 0h1m1 0h1m3 0h2m1 0h1m2 0h1m1 0h2m1 0h1m9 0h2m7 0h1m1 0h2m4 0h1m3 0h2m3 0h1m3 0h1m5 0h1m2 0h1m2 0h2m19 0h1m2 0h1M53 296h5m1 0h1m3 0h3m1 0h6m1 0h2m2 0h1m4 0h1m2 0h1m3 0h2m4 0h1m1 0h2m2 0h1m6 0h1m1 0h3m4 0h1m3 0h2m1 0h2m2 0h2m9 0h1m2 0h1m1 0h1m2 0h2m2 0h2m2 0h1m2 0h4m2 0h1m2 0h1m1 0h1m7 0h2m1 0h1m1 0h4m2 0h1m1 0h1m3 0h1m1 0h1m1 0h1m2 0h1m1 0h3m4 0h1m1 0h1m6 0h1m1 0h1m2 0h1m1 0h2m1 0h1m1 0h2m3 0h1m1 0h2m1 0h1m2 0h1m2 0h1m2 0h1m2 0h1m5 0h1m1 0h1m4 0h1m19 0h1m4 0h1m6 0h1m8 0h1M53 297h2m4 0h3m5 0h1m3 0h1m1 0h4m7 0h1m1 0h1m2 0h1m2 0h1m1 0h1m1 0h2m2 0h3m1 0h3m1 0h2m5 0h2m3 0h2m10 0h1m2 0h1m1 0h3m1 0h1m3 0h1m3 0h1m6 0h3m2 0h2m1 0h1m2 0h1m1 0h3m4 0h1m1 0h1m1 0h1m2 0h1m2 0h1m1 0h2m1 0h1m1 0h1m3 0h4m2 0h1m5 0h1m2 0h3m2 0h1m2 0h1m5 0h3m9 0h1m2 0h1m1 0h1m3 0h1m1 0h1m1 0h1m4 0h2m9 0h3m6 0h1m1 0h1M51 298h2m1 0h3m1 0h1m1 0h1m1 0h2m1 0h1m4 0h3m1 0h1m2 0h1m4 0h2m1 0h2m3 0h2m4 0h1m3 0h1m2 0h1m4 0h3m1 0h1m1 0h1m5 0h1m2 0h2m3 0h1m1 0h1m1 0h2m5 0h1m1 0h1m2 0h4m3 0h1m3 0h1m2 0h1m6 0h1m2 0h1m2 0h5m1 0h2m1 0h3m1 0h1m1 0h1m2 0h1m4 0h1m4 0h1m8 0h1m2 0h2m2 0h1m1 0h1m14 0h2m2 0h2m4 0h1m1 0h2m3 0h1m3 0h1m2 0h2m1 0h4m15 0h1M52 299h1m1 0h1m4 0h1m1 0h2m5 0h1m7 0h2m3 0h2m1 0h1m1 0h1m2 0h1m3 0h4m1 0h2m5 0h2m7 0h1m2 0h4m7 0h2m1 0h3m1 0h2m3 0h1m4 0h2m3 0h2m1 0h2m2 0h1m6 0h1m2 0h1m4 0h4m4 0h1m1 0h1m2 0h1m2 0h1m13 0h1m2 0h2m2 0h1m1 0h1m5 0h2m2 0h1m15 0h1m3 0h1m2 0h2m3 0h1m1 0h2m1 0h1m3 0h1m1 0h1m2 0h1m1 0h2M52 300h3m1 0h3m4 0h1m3 0h1m4 0h1m1 0h2m3 0h1m1 0h3m2 0h3m3 0h1m1 0h7m1 0h3m4 0h1m2 0h2m1 0h2m1 0h1m3 0h2m2 0h1m3 0h1m1 0h1m3 0h1m1 0h1m2 0h3m4 0h2m3 0h1m4 0h2m4 0h1m7 0h2m2 0h1m2 0h3m5 0h3m5 0h3m4 0h1m1 0h1m4 0h1m2 0h1m4 0h1m10 0h2m1 0h1m2 0h1m3 0h4m4 0h1m14 0h1M51 301h2m1 0h1m1 0h1m3 0h1m1 0h2m4 0h2m1 0h2m1 0h3m2 0h1m1 0h1m1 0h1m6 0h1m1 0h1m1 0h2m3 0h1m2 0h5m1 0h1m1 0h1m2 0h1m1 0h2m2 0h2m1 0h2m1 0h2m4 0h1m5 0h1m1 0h2m3 0h1m1 0h2m1 0h1m2 0h1m2 0h2m5 0h1m3 0h1m1 0h1m3 0h1m3 0h1m2 0h1m7 0h1m7 0h1m1 0h1m6 0h1m1 0h1m2 0h1m2 0h4m3 0h2m4 0h1m5 0h1m3 0h2m1 0h1m11 0h1m5 0h2m4 0h1M51 302h1m2 0h1m2 0h2m3 0h2m1 0h1m1 0h1m1 0h2m2 0h1m3 0h2m2 0h1m4 0h1m1 0h1m1 0h1m2 0h2m7 0h3m2 0h1m9 0h1m2 0h1m3 0h1m1 0h2m3 0h3m2 0h1m1 0h1m1 0h1m4 0h1m3 0h1m4 0h1m1 0h1m8 0h1m1 0h1m1 0h1m1 0h1m1 0h1m3 0h2m6 0h2m1 0h1m3 0h1m18 0h5m1 0h1m1 0h1m10 0h1m6 0h1m3 0h1m13 0h1M55 303h1m1 0h1m2 0h1m3 0h1m2 0h3m1 0h1m1 0h1m2 0h1m3 0h2m1 0h1m1 0h2m1 0h1m1 0h1m3 0h1m1 0h2m3 0h4m1 0h2m1 0h2m2 0h3m4 0h3m3 0h1m1 0h3m1 0h5m2 0h1m4 0h1m4 0h1m6 0h2m5 0h3m1 0h2m1 0h1m1 0h2m1 0h1m3 0h2m1 0h1m3 0h3m7 0h3m5 0h1m6 0h1m2 0h1m2 0h1m1 0h1m5 0h1m4 0h2m16 0h1M52 304h7m8 0h1m1 0h4m2 0h2m1 0h1m1 0h1m3 0h3m4 0h1m9 0h4m4 0h1m3 0h1m1 0h1m2 0h1m7 0h2m1 0h4m1 0h1m1 0h1m1 0h3m2 0h1m4 0h1m1 0h1m2 0h4m5 0h1m2 0h2m3 0h1m2 0h1m3 0h1m1 0h2m5 0h2m9 0h1m2 0h1m2 0h1m1 0h1m2 0h1m1 0h1m2 0h2m4 0h1m1 0h1m1 0h1m15 0h2M52 305h2m1 0h4m1 0h1m1 0h1m4 0h1m3 0h1m1 0h1m2 0h2m1 0h1m2 0h2m3 0h1m1 0h1m1 0h1m1 0h2m3 0h2m2 0h1m3 0h2m14 0h1m2 0h2m3 0h1m6 0h2m1 0h2m1 0h1m4 0h1m1 0h2m1 0h2m3 0h1m1 0h1m2 0h3m1 0h5m5 0h2m1 0h1m2 0h1m2 0h1m4 0h2m1 0h3m1 0h1m2 0h2m1 0h1m5 0h2m1 0h2M51 306h2m2 0h1m3 0h2m3 0h2m1 0h2m3 0h2m2 0h1m1 0h1m2 0h1m2 0h1m1 0h4m1 0h1m1 0h3m3 0h1m2 0h1m5 0h1m8 0h1m6 0h3m1 0h2m4 0h1m2 0h2m3 0h1m1 0h2m2 0h1m5 0h1m6 0h1m1 0h1m2 0h1m2 0h1m1 0h1m1 0h1m6 0h1m1 0h1m1 0h2m5 0h1m15 0h1m1 0h4m1 0h1m1 0h3m2 0h1m6 0h1M50 307h1m1 0h3m1 0h1m2 0h2m2 0h1m1 0h2m1 0h1m1 0h2m1 0h1m1 0h2m1 0h2m1 0h4m1 0h1m1 0h2m5 0h1m2 0h1m4 0h4m1 0h1m4 0h5m1 0h1m3 0h1m2 0h1m3 0h1m2 0h1m1 0h1m2 0h1m2 0h2m1 0h3m2 0h1m8 0h1m2 0h1m3 0h2m3 0h1m3 0h2m4 0h1m2 0h1m9 0h1m5 0h1m2 0h1m2 0h1m2 0h2m9 0h1M52 308h1m1 0h1m1 0h1m7 0h3m7 0h1m4 0h3m1 0h2m2 0h1m1 0h4m1 0h2m1 0h1m1 0h1m2 0h2m1 0h2m5 0h1m4 0h3m1 0h2m3 0h3m2 0h1m1 0h1m2 0h1m1 0h1m2 0h1m4 0h1m11 0h1m1 0h1m2 0h2m1 0h2m6 0h1m3 0h2m5 0h1m1 0h1m7 0h1m1 0h1m2 0h1m1 0h1m2 0h1m4 0h1m2 0h1M53 309h3m8 0h2m4 0h2m3 0h1m3 0h1m1 0h1m3 0h2m2 0h2m6 0h2m3 0h4m1 0h2m1 0h3m6 0h1m2 0h1m1 0h2m2 0h1m2 0h1m7 0h2m1 0h1m2 0h2m1 0h1m1 0h1m1 0h1m4 0h2m3 0h3m1 0h1m3 0h1m4 0h1m1 0h2m5 0h2m1 0h1m2 0h1m3 0h1m1 0h1m2 0h1m2 0h1m4 0h1m1 0h1M54 310h1m2 0h1m1 0h1m3 0h1m3 0h1m1 0h2m1 0h1m1 0h1m1 0h1m3 0h2m7 0h1m4 0h1m1 0h1m1 0h1m4 0h2m2 0h3m2 0h1m1 0h3m4 0h2m2 0h1m2 0h3m3 0h1m1 0h1m2 0h1m2 0h1m1 0h1m5 0h3m4 0h2m2 0h1m4 0h1m7 0h1m1 0h1m4 0h1m4 0h3m22 0h1M51 311h2m2 0h2m1 0h1m2 0h1m1 0h2m3 0h1m1 0h2m1 0h1m3 0h3m1 0h5m1 0h2m1 0h2m3 0h1m2 0h1m2 0h1m6 0h1m3 0h2m2 0h1m2 0h1m3 0h2m2 0h3m6 0h1m3 0h1m2 0h1m1 0h1m2 0h2m1 0h2m2 0h1m2 0h1m1 0h6m2 0h2m2 0h2m3 0h2m2 0h1m1 0h1m4 0h1m3 0h1m1 0h1m1 0h2m5 0h1M50 312h2m1 0h5m1 0h4m2 0h1m3 0h1m1 0h1m2 0h1m2 0h1m1 0h1m5 0h1m2 0h3m1 0h1m8 0h1m4 0h1m1 0h1m1 0h6m3 0h3m1 0h1m1 0h6m2 0h1m3 0h1m1 0h1m1 0h1m3 0h1m6 0h1m5 0h1m2 0h2m7 0h1m5 0h1m1 0h1m8 0h1M53 313h1m2 0h1m2 0h1m3 0h3m1 0h1m1 0h1m1 0h1m9 0h3m2 0h2m2 0h2m4 0h1m2 0h1m2 0h2m2 0h9m3 0h1m1 0h1m2 0h3m1 0h1m3 0h2m5 0h2m1 0h1m4 0h1m1 0h2m1 0h1m2 0h1m3 0h1m3 0h1m8 0h1m1 0h1m1 0h1m1 0h1m3 0h1m3 0h1m4 0h1M52 314h2m2 0h3m3 0h1m1 0h3m1 0h1m2 0h1m1 0h1m2 0h3m1 0h1m5 0h1m1 0h1m1 0h1m1 0h2m1 0h2m3 0h1m1 0h1m2 0h3m5 0h2m2 0h1m1 0h4m2 0h1m6 0h1m2 0h5m2 0h1m3 0h4m5 0h2m3 0h1m3 0h1m1 0h1m4 0h1m5 0h1M51 315h1m5 0h2m4 0h2m2 0h1m3 0h2m2 0h1m1 0h3m1 0h1m1 0h1m1 0h2m1 0h1m2 0h1m2 0h2m1 0h1m1 0h1m3 0h1m1 0h1m1 0h1m5 0h2m1 0h1m2 0h1m1 0h1m1 0h1m1 0h2m5 0h1m3 0h2m1 0h2m1 0h1m2 0h1m1 0h1m4 0h2m2 0h2m3 0h1m1 0h1m5 0h2M54 316h1m6 0h1m6 0h1m1 0h1m1 0h3m1 0h2m2 0h1m2 0h1m3 0h2m5 0h1m3 0h1m1 0h1m3 0h1m1 0h2m1 0h1m2 0h2m2 0h1m6 0h2m1 0h2m2 0h1m1 0h2m1 0h1m2 0h1m7 0h1m4 0h1m2 0h1m3 0h1m1 0h1m1 0h1m3 0h1m1 0h1m2 0h1m2 0h1m5 0h1M52 317h4m2 0h1m1 0h4m2 0h1m4 0h1m3 0h1m2 0h1m4 0h3m1 0h3m3 0h1m2 0h2m6 0h1m2 0h1m2 0h2m1 0h3m6 0h2m3 0h1m4 0h1m3 0h1m1 0h1m1 0h2m8 0h1m1 0h1m2 0h1m2 0h2m5 0h1m3 0h1m1 0h1m1 0h1M51 318h2m1 0h1m1 0h2m2 0h2m1 0h1m1 0h1m7 0h1m2 0h2m2 0h4m1 0h3m2 0h2m2 0h2m2 0h1m2 0h5m3 0h1m2 0h1m3 0h1m2 0h1m2 0h1m1 0h1m5 0h2m8 0h1m2 0h1m2 0h1m23 0h1m3 0h1M52 319h1m1 0h4m2 0h1m1 0h4m2 0h1m1 0h2m1 0h3m1 0h1m1 0h2m5 0h2m7 0h4m1 0h1m4 0h3m5 0h1m5 0h1m1 0h1m3 0h1m3 0h1m4 0h2m3 0h1m2 0h1m1 0h1m2 0h1m8 0h1M55 320h5m2 0h3m3 0h1m4 0h1m1 0h3m1 0h1m5 0h1m1 0h3m4 0h1m2 0h1m2 0h2m2 0h2m1 0h4m1 0h1m3 0h1m2 0h1m3 0h1m2 0h2m2 0h1m2 0h1m3 0h1m6 0h1m7 0h3m2 0h1m2 0h1M53 321h2m4 0h1m2 0h1m3 0h2m2 0h1m3 0h1m2 0h1m3 0h3m1 0h3m1 0h1m2 0h1m4 0h5m3 0h1m7 0h1m3 0h1m3 0h1m5 0h1m4 0h1m5 0h1m1 0h2m2 0h3m2 0h1m1 0h3M51 322h1m3 0h2m2 0h1m3 0h2m7 0h1m4 0h1m1 0h1m2 0h1m2 0h1m3 0h1m1 0h1m1 0h2m2 0h1m9 0h3m1 0h1m7 0h2m5 0h1m1 0h2m3 0h2m3 0h1m4 0h2m4 0h1M56 323h1m4 0h1m4 0h1m1 0h1m3 0h1m1 0h3m4 0h3m1 0h6m1 0h1m1 0h2m3 0h1m2 0h1m2 0h1m4 0h2m1 0h1m1 0h1m1 0h3m3 0h2m3 0h1m2 0h2m14 0h1m1 0h1M52 324h1m1 0h3m1 0h1m1 0h4m1 0h3m1 0h2m1 0h2m2 0h1m2 0h1m2 0h2m4 0h2m1 0h3m3 0h2m2 0h1m3 0h4m4 0h2m1 0h1m1 0h2m2 0h1m2 0h2m2 0h1m13 0h1M51 325h4m1 0h1m2 0h1m2 0h1m3 0h1m1 0h2m1 0h1m1 0h2m1 0h8m2 0h1m4 0h1m6 0h1m1 0h1m2 0h1m1 0h1m1 0h1m1 0h2m2 0h1m1 0h1m4 0h2m2 0h1m1 0h1m3 0h1m5 0h1m8 0h1M52 326h1m4 0h3m2 0h2m4 0h1m1 0h1m5 0h1m2 0h2m2 0h1m1 0h1m4 0h3m2 0h1m1 0h1m2 0h4m3 0h1m2 0h2m4 0h1m2 0h3m8 0h2M51 327h1m3 0h4m1 0h1m1 0h2m1 0h5m1 0h2m2 0h2m9 0h3m1 0h2m2 0h1m1 0h1m1 0h2m4 0h2m8 0h1m4 0h1m1 0h1m6 0h1M50 328h1m2 0h2m2 0h3m4 0h2m1 0h1m2 0h4m2 0h1m2 0h1m1 0h6m3 0h2m1 0h5m4 0h1m5 0h3m2 0h1m1 0h2m4 0h1m3 0h1m1 0h1M51 329h2m1 0h2m1 0h2m2 0h3m1 0h1m12 0h1m2 0h1m1 0h2m4 0h1m1 0h1m11 0h1m4 0h2m1 0h1m1 0h2m6 0h1m3 0h1m2 0h1M52 330h1m3 0h1m2 0h1m2 0h1m2 0h1m5 0h3m3 0h1m7 0h1m3 0h4m1 0h1m4 0h3m3 0h1m2 0h1m4 0h2m4 0h1m3 0h1M53 331h1m1 0h2m5 0h1m4 0h2m1 0h1m3 0h3m10 0h1m2 0h1m3 0h2m1 0h3m2 0h1m2 0h1m1 0h1m2 0h1m1 0h1m1 0h1m1 0h1M51 332h1m2 0h2m1 0h1m4 0h1m1 0h2m5 0h2m1 0h4m3 0h1m6 0h2m1 0h2m4 0h1m2 0h1m1 0h2m1 0h2m1 0h1m3 0h1m1 0h1m1 0h1m3 0h1M51 333h1m6 0h1m3 0h1m1 0h1m1 0h2m2 0h1m7 0h2m2 0h1m1 0h1m1 0h2m2 0h1m6 0h1m7 0h2m5 0h1M50 334h1m1 0h3m2 0h1m1 0h2m1 0h1m5 0h1m1 0h2m1 0h1m12 0h1m3 0h1m5 0h2m6 0h1m3 0h2m1 0h2m1 0h1M50 335h2m1 0h2m2 0h1m1 0h3m1 0h2m1 0h1m5 0h1m3 0h2m1 0h1m6 0h3m5 0h1m2 0h1m2 0h1M51 336h1m1 0h1m1 0h3m7 0h1m1 0h2m1 0h1m1 0h2m2 0h1m2 0h5m2 0h1m9 0h3m7 0h1M50 337h1m2 0h2m2 0h1m2 0h1m1 0h1m1 0h1m4 0h1m8 0h2m2 0h2m1 0h4m3 0h2m3 0h1M51 338h2m2 0h3m3 0h3m4 0h4m1 0h1m1 0h1m8 0h1m1 0h1M50 339h2m1 0h1m1 0h1m2 0h2m3 0h3m1 0h2m2 0h3m1 0h2m2 0h2m2 0h1m3 0h1m7 0h1m2 0h1M50 340h1m4 0h1m1 0h1m3 0h1m3 0h1m2 0h1m2 0h1m1 0h1m1 0h1m9 0h1m3 0h3m3 0h1M54 341h1m4 0h1m1 0h1m1 0h2m3 0h1m5 0h2m5 0h3m12 0h1M59 342h1m1 0h2m1 0h1m1 0h1m1 0h1m1 0h1m1 0h1m2 0h1m1 0h1m4 0h1m2 0h1m1 0h1M50 343h1m3 0h1m1 0h1m1 0h1m1 0h1m6 0h3m1 0h1m2 0h3m1 0h1m1 0h1m1 0h1M52 344h1m2 0h1m1 0h1m1 0h1m3 0h2m3 0h1m12 0h2m1 0h1m1 0h1M53 345h1m1 0h1m2 0h6m1 0h1m6 0h1m2 0h1m7 0h1M50 346h2m8 0h3m1 0h1m1 0h1m2 0h2m1 0h2m2 0h2M53 347h1m1 0h2m1 0h2m1 0h1m1 0h1m1 0h1m2 0h1m3 0h1m2 0h1m1 0h1M50 348h2m1 0h3m4 0h3m2 0h1m1 0h2m1 0h1m2 0h1m2 0h1M51 349h1m1 0h2m3 0h2m2 0h2m6 0h2M50 350h1m1 0h3m1 0h1m1 0h2m14 0h1M51 351h1m1 0h1m1 0h1m6 0h1m2 0h2M51 352h1m1 0h1m2 0h1m6 0h1M54 353h1m3 0h1m5 0h1M51 354h2m8 0h1m1 0h2M52 355h1m3 0h2m2 0h2m1 0h1M52 356h1m1 0h1m3 0h1m4 0h1M50 357h1m1 0h1m1 0h1m2 0h1M51 358h1M51 359h1m3 0h3M53 360h1m1 0h1M50 361h1m1 0h2m4 0h1M55 362h1m1 0h1m1 0h1M53 363h1m1 0h1M51 364h1m5 0h1M50 366h1m1 0h1m1 0h1" fill="none" stroke="#9400d3" stroke-width="1" shape-rendering="crispEdges"/>
<polyline fill="none" stroke="#56b4e9" stroke-width="1" stroke-linejoin="round" points="50.9,373 51.2,371 52.3,361 53.6,348.5 54.5,338 55,332 55.7,327 56.7,322 59.2,315 64,309.7 69,306.6 72.5,304.8 81.25,298.75 86.25,297.5 93.75,292 104.5,291 108.75,284.5 112.5,286.25 127.5,280 131.25,283 140,277 160,270.5 177.5,266.25 190,270 197.5,264.5 215,260.75 230,256.25 247.5,255.5 256.25,250.5 261.25,253.75 275,250 297.5,248.75 313.75,242.5 325,241.25 332.5,234.5 340,239.5 355,237.5 371.25,236.25 380,238.75 395,233.75 410,233.75 420,230.5 440,229.5 452.5,225.5 467.5,228 477.5,225 490,220.5 502.5,222 515,216.25 525,217.5 533.75,211.25 545,215 565,211.25 583.5,208 600,204.5 615,202.5 635,202.5 655,200 672.5,193.75 692.5,191.25 705,191.5 710,192.5 740,182.5 750,180.5 775,178 812.5,170.5 820,166 850,148.2 895,119.7"/>
<path d="M50.5 393.5v-4.5M50.5 36.5v4.5M68.5 393.5v-2.25M68.5 36.5v2.25M86.5 393.5v-2.25M86.5 36.5v2.25M103.5 393.5v-2.25M103.5 36.5v2.25M121.5 393.5v-2.25M121.5 36.5v2.25M139.5 393.5v-4.5M139.5 36.5v4.5M157.5 393.5v-2.25M157.5 36.5v2.25M174.5 393.5v-2.25M174.5 36.5v2.25M192.5 393.5v-2.25M192.5 36.5v2.25M210.5 393.5v-2.25M210.5 36.5v2.25M228.5 393.5v-4.5M228.5 36.5v4.5M245.5 393.5v-2.25M245.5 36.5v2.25M263.5 393.5v-2.25M263.5 36.5v2.25M281.5 393.5v-2.25M281.5 36.5v2.25M299.5 393.5v-2.25M299.5 36.5v2.25M316.5 393.5v-4.5M316.5 36.5v4.5M334.5 393.5v-2.25M334.5 36.5v2.25M352.5 393.5v-2.25M352.5 36.5v2.25M370.5 393.5v-2.25M370.5 36.5v2.25M387.5 393.5v-2.25M387.5 36.5v2.25M405.5 393.5v-4.5M405.5 36.5v4.5M423.5 393.5v-2.25M423.5 36.5v2.25M441.5 393.5v-2.25M441.5 36.5v2.25M458.5 393.5v-2.25M458.5 36.5v2.25M476.5 393.5v-2.25M476.5 36.5v2.25M494.5 393.5v-4.5M494.5 36.5v4.5M512.5 393.5v-2.25M512.5 36.5v2.25M530.5 393.5v-2.25M530.5 36.5v2.25M547.5 393.5v-2.25M547.5 36.5v2.25M565.5 393.5v-2.25M565.5 36.5v2.25M583.5 393.5v-4.5M583.5 36.5v4.5M601.5 393.5v-2.25M601.5 36.5v2.25M618.5 393.5v-2.25M618.5 36.5v2.25M636.5 393.5v-2.25M636.5 36.5v2.25M654.5 393.5v-2.25M654.5 36.5v2.25M672.5 393.5v-4.5M672.5 36.5v4.5M689.5 393.5v-2.25M689.5 36.5v2.25M707.5 393.5v-2.25M707.5 36.5v2.25M725.5 393.5v-2.25M725.5 36.5v2.25M743.5 393.5v-2.25M743.5 36.5v2.25M760.5 393.5v-4.5M760.5 36.5v4.5M778.5 393.5v-2.25M778.5 36.5v2.25M796.5 393.5v-2.25M796.5 36.5v2.25M814.5 393.5v-2.25M814.5 36.5v2.25M831.5 393.5v-2.25M831.5 36.5v2.25M849.5 393.5v-4.5M849.5 36.5v4.5M867.5 393.5v-2.25M867.5 36.5v2.25M885.5 393.5v-2.25M885.5 36.5v2.25M902.5 393.5v-2.25M902.5 36.5v2.25M920.5 393.5v-2.25M920.5 36.5v2.25M938.5 393.5v-4.5M938.5 36.5v4.5M50.5 393.5h4.5M938.5 393.5h-4.5M50.5 383.5h2.25M938.5 383.5h-2.25M50.5 373.5h2.25M938.5 373.5h-2.25M50.5 362.5h2.25M938.5 362.5h-2.25M50.5 352.5h2.25M938.5 352.5h-2.25M50.5 342.5h4.5M938.5 342.5h-4.5M50.5 332.5h2.25M938.5 332.5h-2.25M50.5 322.5h2.25M938.5 322.5h-2.25M50.5 311.5h2.25M938.5 311.5h-2.25M50.5 301.5h2.25M938.5 301.5h-2.25M50.5 291.5h4.5M938.5 291.5h-4.5M50.5 281.5h2.25M938.5 281.5h-2.25M50.5 271.5h2.25M938.5 271.5h-2.25M50.5 260.5h2.25M938.5 260.5h-2.25M50.5 250.5h2.25M938.5 250.5h-2.25M50.5 240.5h4.5M938.5 240.5h-4.5M50.5 230.5h2.25M938.5 230.5h-2.25M50.5 220.5h2.25M938.5 220.5h-2.25M50.5 209.5h2.25M938.5 209.5h-2.25M50.5 199.5h2.25M938.5 199.5h-2.25M50.5 189.5h4.5M938.5 189.5h-4.5M50.5 179.5h2.25M938.5 179.5h-2.25M50.5 169.5h2.25M938.5 169.5h-2.25M50.5 158.5h2.25M938.5 158.5h-2.25M50.5 148.5h2.25M938.5 148.5h-2.25M50.5 138.5h4.5M938.5 138.5h-4.5M50.5 128.5h2.25M938.5 128.5h-2.25M50.5 118.5h2.25M938.5 118.5h-2.25M50.5 107.5h2.25M938.5 107.5h-2.25M50.5 97.5h2.25M938.5 97.5h-2.25M50.5 87.5h4.5M938.5 87.5h-4.5M50.5 77.5h2.25M938.5 77.5h-2.25M50.5 67.5h2.25M938.5 67.5h-2.25M50.5 56.5h2.25M938.5 56.5h-2.25M50.5 46.5h2.25M938.5 46.5h-2.25M50.5 36.5h4.5M938.5 36.5h-4.5" fill="none" stroke="#000" stroke-width="1"/>
<rect x="50.5" y="36.5" width="888.0" height="357.0" fill="none" stroke="#000" stroke-width="1"/>
<text x="493.7" y="21" text-anchor="middle" textLength="366.5" lengthAdjust="spacingAndGlyphs">[boo] Seagate ST1000DM003-9YN162 1TB 3.5" 7.2kRPM SATA Read</text>
<text x="42.3" y="396" text-anchor="end">0</text>
<text x="42.3" y="345" text-anchor="end">5</text>
<text x="42.3" y="294" text-anchor="end">10</text>
<text x="42.3" y="243" text-anchor="end">15</text>
<text x="42.3" y="192" text-anchor="end">20</text>
<text x="42.3" y="141" text-anchor="end">25</text>
<text x="42.3" y="90" text-anchor="end">30</text>
<text x="42.3" y="39" text-anchor="end">35</text>
<text x="50.4" y="408" text-anchor="middle">0</text>
<text x="140.2" y="408" text-anchor="middle">100000</text>
<text x="229.2" y="408" text-anchor="middle">200000</text>
<text x="317.2" y="408" text-anchor="middle">300000</text>
<text x="406.2" y="408" text-anchor="middle">400000</text>
<text x="495.2" y="408" text-anchor="middle">500000</text>
<text x="584.2" y="408" text-anchor="middle">600000</text>
<text x="673.2" y="408" text-anchor="middle">700000</text>
<text x="761.2" y="408" text-anchor="middle">800000</text>
<text x="850.2" y="408" text-anchor="middle">900000</text>
<text x="924" y="408">1x10<tspan dy="-5" font-size="9.5px">6</tspan></text>
<text x="493.5" y="425.7" text-anchor="middle" textLength="104" lengthAdjust="spacingAndGlyphs">Seek distance (MB)</text>
<text transform="translate(13,214.3) rotate(-90)" text-anchor="middle" textLength="91" lengthAdjust="spacingAndGlyphs">Seek Speed (ms)</text>
</svg>
</body></html>
